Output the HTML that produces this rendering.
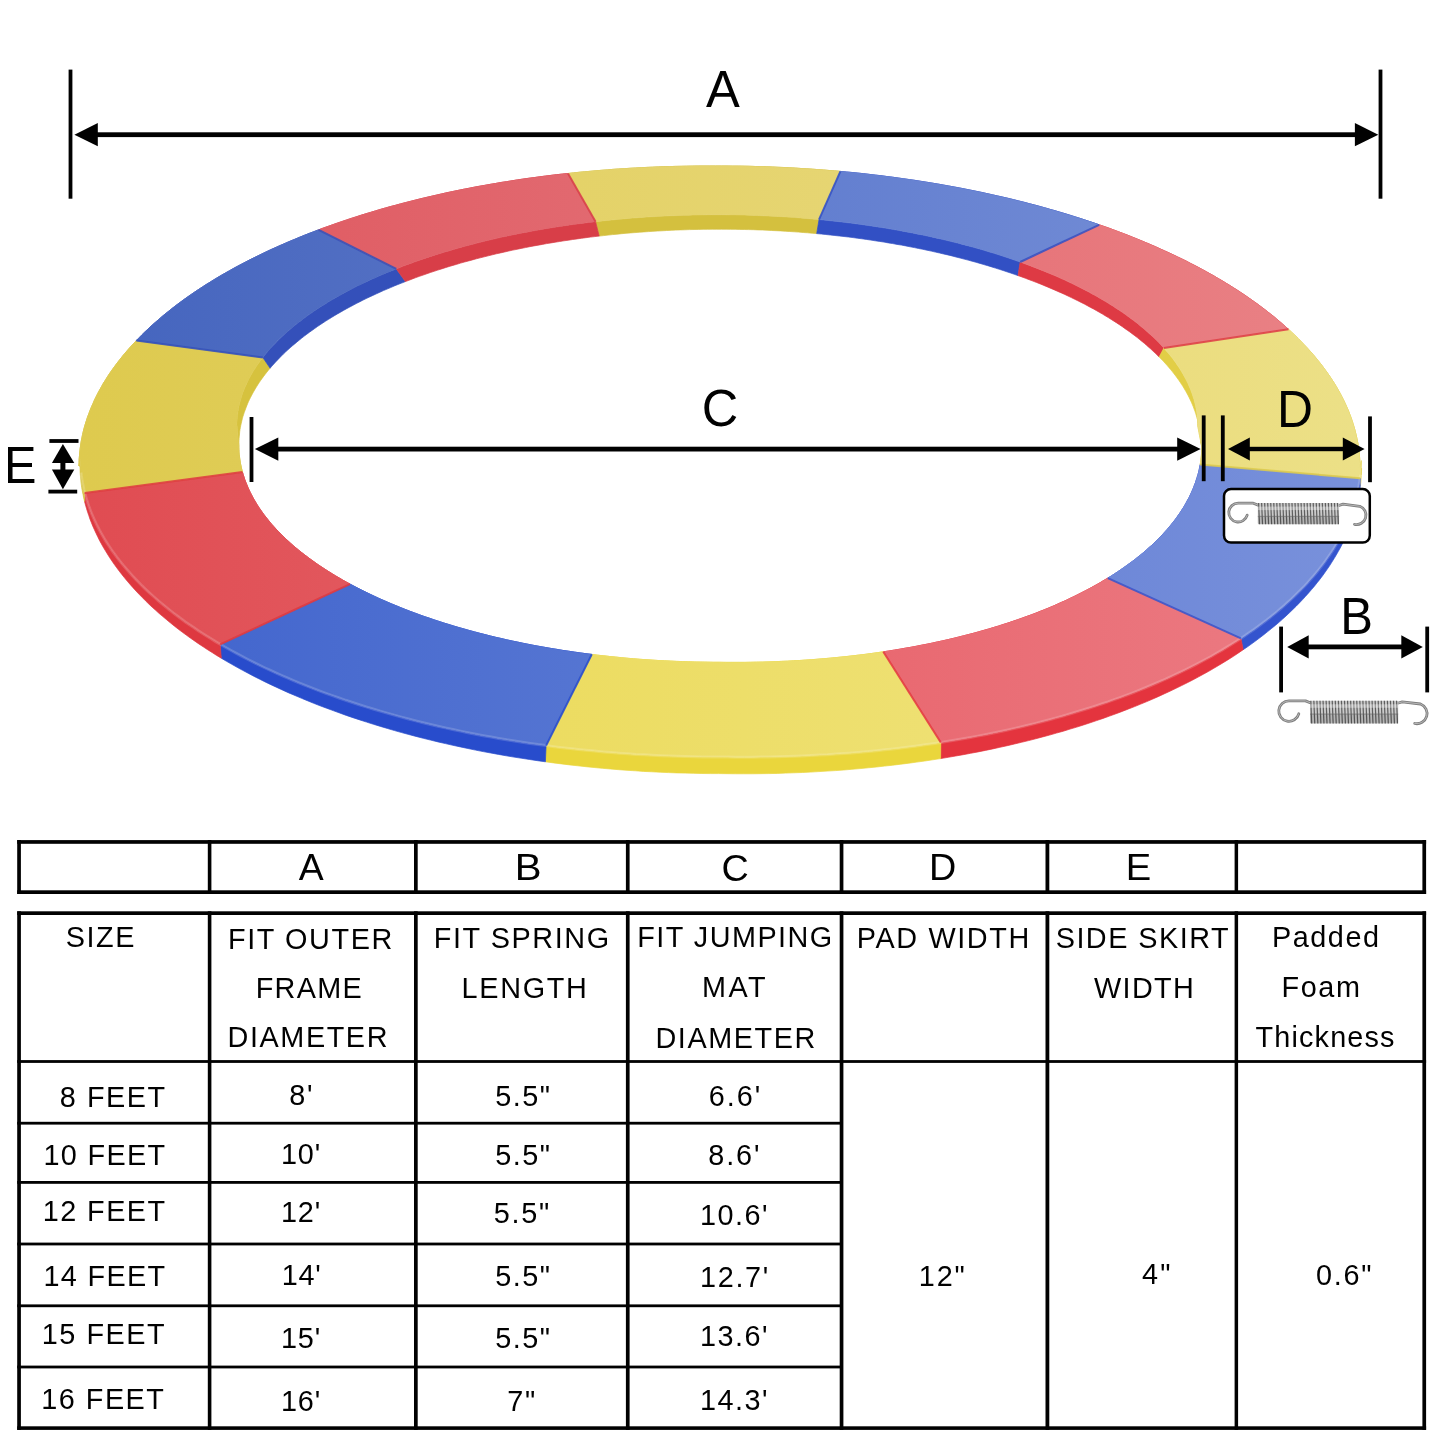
<!DOCTYPE html>
<html><head><meta charset="utf-8"><title>Trampoline pad size chart</title>
<style>html,body{margin:0;padding:0;background:#fff}svg{display:block}text{font-family:"Liberation Sans",sans-serif;white-space:pre}</style>
</head><body>
<svg width="1445" height="1445" viewBox="0 0 1445 1445">
<rect width="1445" height="1445" fill="#fff"/>
<g opacity="0.999">
<defs><linearGradient id="g0" gradientUnits="userSpaceOnUse" x1="568" y1="0" x2="840" y2="0"><stop offset="0" stop-color="#E4D268"/><stop offset="1" stop-color="#E6D572"/></linearGradient><linearGradient id="g1" gradientUnits="userSpaceOnUse" x1="819" y1="0" x2="1099" y2="0"><stop offset="0" stop-color="#637FD0"/><stop offset="1" stop-color="#6F89D4"/></linearGradient><linearGradient id="g2" gradientUnits="userSpaceOnUse" x1="1020" y1="0" x2="1288" y2="0"><stop offset="0" stop-color="#E7757A"/><stop offset="1" stop-color="#E98084"/></linearGradient><linearGradient id="g3" gradientUnits="userSpaceOnUse" x1="1164" y1="0" x2="1361" y2="0"><stop offset="0" stop-color="#EBDD7F"/><stop offset="1" stop-color="#ECE087"/></linearGradient><linearGradient id="g4" gradientUnits="userSpaceOnUse" x1="1108" y1="0" x2="1360" y2="0"><stop offset="0" stop-color="#6E88D8"/><stop offset="1" stop-color="#7991DB"/></linearGradient><linearGradient id="g5" gradientUnits="userSpaceOnUse" x1="883" y1="0" x2="1241" y2="0"><stop offset="0" stop-color="#E96971"/><stop offset="1" stop-color="#EB7880"/></linearGradient><linearGradient id="g6" gradientUnits="userSpaceOnUse" x1="546" y1="0" x2="941" y2="0"><stop offset="0" stop-color="#ECDC61"/><stop offset="1" stop-color="#EEE072"/></linearGradient><linearGradient id="g7" gradientUnits="userSpaceOnUse" x1="220" y1="0" x2="592" y2="0"><stop offset="0" stop-color="#4467CE"/><stop offset="1" stop-color="#5575D2"/></linearGradient><linearGradient id="g8" gradientUnits="userSpaceOnUse" x1="85" y1="0" x2="350" y2="0"><stop offset="0" stop-color="#E04C52"/><stop offset="1" stop-color="#E2575D"/></linearGradient><linearGradient id="g9" gradientUnits="userSpaceOnUse" x1="79" y1="0" x2="263" y2="0"><stop offset="0" stop-color="#DECA4E"/><stop offset="1" stop-color="#DFCC56"/></linearGradient><linearGradient id="g10" gradientUnits="userSpaceOnUse" x1="136" y1="0" x2="396" y2="0"><stop offset="0" stop-color="#4666BF"/><stop offset="1" stop-color="#526FC3"/></linearGradient><linearGradient id="g11" gradientUnits="userSpaceOnUse" x1="319" y1="0" x2="596" y2="0"><stop offset="0" stop-color="#E05E65"/><stop offset="1" stop-color="#E26970"/></linearGradient></defs>
<path d="M568.0,173.5 L573.5,172.9 L579.1,172.3 L584.7,171.8 L590.3,171.3 L595.9,170.8 L601.6,170.3 L607.2,169.9 L612.8,169.4 L618.5,169.0 L624.2,168.7 L629.8,168.3 L635.5,168.0 L641.2,167.7 L646.9,167.4 L652.6,167.2 L658.3,166.9 L664.0,166.7 L669.7,166.6 L675.4,166.4 L681.1,166.3 L686.8,166.2 L692.6,166.1 L698.3,166.0 L704.0,166.0 L709.8,166.0 L715.5,166.0 L721.2,166.0 L726.9,166.0 L732.6,166.1 L738.3,166.1 L744.1,166.2 L749.8,166.3 L755.5,166.5 L761.2,166.6 L766.9,166.8 L772.6,167.0 L778.2,167.3 L783.9,167.5 L789.6,167.8 L795.3,168.1 L801.0,168.5 L806.6,168.8 L812.3,169.2 L817.9,169.6 L823.6,170.0 L829.2,170.5 L834.8,170.9 L840.4,171.4 L840.4,171.4 L834.8,170.9 L829.2,170.5 L823.6,170.0 L817.9,169.6 L812.3,169.2 L806.6,168.8 L801.0,168.5 L795.3,168.1 L789.6,167.8 L783.9,167.5 L778.2,167.3 L772.6,167.0 L766.9,166.8 L761.2,166.6 L755.5,166.5 L749.8,166.3 L744.1,166.2 L738.3,166.1 L732.6,166.1 L726.9,166.0 L721.2,166.0 L715.5,166.0 L709.8,166.0 L704.0,166.0 L698.3,166.0 L692.6,166.1 L686.8,166.2 L681.1,166.3 L675.4,166.4 L669.7,166.6 L664.0,166.7 L658.3,166.9 L652.6,167.2 L646.9,167.4 L641.2,167.7 L635.5,168.0 L629.8,168.3 L624.2,168.7 L618.5,169.0 L612.8,169.4 L607.2,169.9 L601.6,170.3 L595.9,170.8 L590.3,171.3 L584.7,171.8 L579.1,172.3 L573.5,172.9 L568.0,173.5Z" fill="#D4C03E" stroke="#D4C03E" stroke-width="0.7" stroke-linejoin="round"/>
<path d="M595.6,221.7 L600.1,221.2 L604.7,220.7 L609.3,220.2 L613.9,219.8 L618.5,219.3 L623.1,218.9 L627.7,218.5 L632.3,218.1 L636.9,217.8 L641.6,217.4 L646.2,217.1 L650.8,216.8 L655.5,216.6 L660.2,216.3 L664.8,216.1 L669.5,215.8 L674.2,215.7 L678.9,215.5 L683.5,215.3 L688.2,215.2 L692.9,215.1 L697.6,215.0 L702.3,214.9 L707.0,214.8 L711.7,214.8 L716.4,214.8 L721.1,214.8 L725.8,214.8 L730.5,214.9 L735.2,214.9 L739.9,215.0 L744.6,215.1 L749.3,215.3 L754.0,215.4 L758.6,215.6 L763.3,215.8 L768.0,216.0 L772.7,216.2 L777.3,216.5 L782.0,216.7 L786.6,217.0 L791.3,217.3 L795.9,217.6 L800.6,218.0 L805.2,218.4 L809.8,218.8 L814.4,219.2 L819.0,219.6 L816.7,233.6 L812.2,233.2 L807.7,232.8 L803.3,232.5 L798.7,232.1 L794.2,231.8 L789.7,231.5 L785.2,231.2 L780.7,230.9 L776.1,230.7 L771.6,230.5 L767.0,230.2 L762.5,230.0 L757.9,229.9 L753.4,229.7 L748.8,229.6 L744.2,229.5 L739.7,229.4 L735.1,229.3 L730.5,229.3 L726.0,229.2 L721.4,229.2 L716.8,229.2 L712.2,229.2 L707.7,229.3 L703.1,229.3 L698.5,229.4 L694.0,229.5 L689.4,229.6 L684.8,229.8 L680.3,229.9 L675.7,230.1 L671.2,230.3 L666.6,230.5 L662.1,230.8 L657.6,231.0 L653.0,231.3 L648.5,231.6 L644.0,231.9 L639.5,232.2 L635.0,232.6 L630.5,232.9 L626.0,233.3 L621.5,233.7 L617.0,234.2 L612.6,234.6 L608.1,235.1 L603.7,235.6 L599.2,236.1Z" fill="#D4C03E" stroke="#D4C03E" stroke-width="0.7" stroke-linejoin="round"/>
<path d="M840.4,171.4 L846.3,172.0 L852.1,172.5 L857.9,173.1 L863.6,173.7 L869.4,174.4 L875.2,175.1 L880.9,175.7 L886.7,176.5 L892.4,177.2 L898.1,178.0 L903.8,178.8 L909.4,179.6 L915.1,180.4 L920.7,181.3 L926.4,182.2 L932.0,183.1 L937.6,184.0 L943.1,185.0 L948.7,186.0 L954.2,187.0 L959.7,188.0 L965.2,189.1 L970.7,190.2 L976.1,191.3 L981.5,192.4 L986.9,193.6 L992.3,194.8 L997.7,196.0 L1003.0,197.2 L1008.3,198.4 L1013.6,199.7 L1018.8,201.0 L1024.1,202.3 L1029.3,203.7 L1034.5,205.0 L1039.6,206.4 L1044.7,207.8 L1049.8,209.3 L1054.9,210.7 L1059.9,212.2 L1065.0,213.7 L1069.9,215.2 L1074.9,216.8 L1079.8,218.3 L1084.7,219.9 L1089.5,221.5 L1094.4,223.1 L1099.2,224.8 L1099.2,224.8 L1094.4,223.1 L1089.5,221.5 L1084.7,219.9 L1079.8,218.3 L1074.9,216.8 L1069.9,215.2 L1065.0,213.7 L1059.9,212.2 L1054.9,210.7 L1049.8,209.3 L1044.7,207.8 L1039.6,206.4 L1034.5,205.0 L1029.3,203.7 L1024.1,202.3 L1018.8,201.0 L1013.6,199.7 L1008.3,198.4 L1003.0,197.2 L997.7,196.0 L992.3,194.8 L986.9,193.6 L981.5,192.4 L976.1,191.3 L970.7,190.2 L965.2,189.1 L959.7,188.0 L954.2,187.0 L948.7,186.0 L943.1,185.0 L937.6,184.0 L932.0,183.1 L926.4,182.2 L920.7,181.3 L915.1,180.4 L909.4,179.6 L903.8,178.8 L898.1,178.0 L892.4,177.2 L886.7,176.5 L880.9,175.7 L875.2,175.1 L869.4,174.4 L863.6,173.7 L857.9,173.1 L852.1,172.5 L846.3,172.0 L840.4,171.4Z" fill="#3250C4" stroke="#3250C4" stroke-width="0.7" stroke-linejoin="round"/>
<path d="M819.0,219.6 L823.6,220.0 L828.2,220.5 L832.7,221.0 L837.3,221.5 L841.8,222.0 L846.3,222.6 L850.8,223.1 L855.3,223.7 L859.8,224.3 L864.3,224.9 L868.8,225.6 L873.2,226.2 L877.6,226.9 L882.1,227.6 L886.5,228.3 L890.8,229.1 L895.2,229.8 L899.6,230.6 L903.9,231.4 L908.2,232.2 L912.5,233.0 L916.8,233.9 L921.0,234.7 L925.3,235.6 L929.5,236.5 L933.7,237.4 L937.9,238.4 L942.0,239.3 L946.2,240.3 L950.3,241.3 L954.4,242.3 L958.5,243.3 L962.5,244.4 L966.5,245.4 L970.5,246.5 L974.5,247.6 L978.5,248.7 L982.4,249.8 L986.3,251.0 L990.2,252.2 L994.0,253.3 L997.8,254.5 L1001.6,255.7 L1005.4,257.0 L1009.1,258.2 L1012.8,259.5 L1016.5,260.8 L1020.2,262.0 L1018.0,275.6 L1014.3,274.3 L1010.6,273.0 L1006.9,271.8 L1003.1,270.5 L999.3,269.3 L995.5,268.1 L991.7,266.9 L987.8,265.7 L983.9,264.6 L980.0,263.4 L976.1,262.3 L972.1,261.2 L968.1,260.1 L964.1,259.1 L960.1,258.0 L956.0,257.0 L952.0,255.9 L947.9,254.9 L943.7,254.0 L939.6,253.0 L935.4,252.1 L931.2,251.1 L927.0,250.2 L922.8,249.3 L918.6,248.5 L914.3,247.6 L910.1,246.8 L905.8,245.9 L901.4,245.1 L897.1,244.4 L892.8,243.6 L888.4,242.9 L884.0,242.1 L879.6,241.4 L875.2,240.8 L870.8,240.1 L866.4,239.4 L861.9,238.8 L857.4,238.2 L853.0,237.6 L848.5,237.0 L844.0,236.5 L839.5,236.0 L834.9,235.5 L830.4,235.0 L825.8,234.5 L821.3,234.0 L816.7,233.6Z" fill="#3250C4" stroke="#3250C4" stroke-width="0.7" stroke-linejoin="round"/>
<path d="M1099.2,224.8 L1104.1,226.5 L1109.0,228.2 L1113.8,230.0 L1118.6,231.8 L1123.4,233.6 L1128.1,235.4 L1132.8,237.3 L1137.5,239.2 L1142.1,241.1 L1146.7,243.0 L1151.2,244.9 L1155.8,246.9 L1160.2,248.9 L1164.6,250.9 L1169.0,252.9 L1173.4,254.9 L1177.7,257.0 L1181.9,259.0 L1186.2,261.1 L1190.3,263.3 L1194.5,265.4 L1198.6,267.5 L1202.6,269.7 L1206.6,271.9 L1210.6,274.1 L1214.5,276.3 L1218.3,278.6 L1222.2,280.8 L1225.9,283.1 L1229.7,285.4 L1233.3,287.7 L1237.0,290.0 L1240.6,292.4 L1244.1,294.7 L1247.6,297.1 L1251.0,299.5 L1254.4,301.9 L1257.8,304.3 L1261.1,306.8 L1264.3,309.2 L1267.5,311.7 L1270.7,314.2 L1273.8,316.6 L1276.8,319.2 L1279.8,321.7 L1282.7,324.2 L1285.6,326.8 L1288.5,329.3 L1288.5,329.3 L1285.6,326.8 L1282.7,324.2 L1279.8,321.7 L1276.8,319.2 L1273.8,316.6 L1270.7,314.2 L1267.5,311.7 L1264.3,309.2 L1261.1,306.8 L1257.8,304.3 L1254.4,301.9 L1251.0,299.5 L1247.6,297.1 L1244.1,294.7 L1240.6,292.4 L1237.0,290.0 L1233.3,287.7 L1229.7,285.4 L1225.9,283.1 L1222.2,280.8 L1218.3,278.6 L1214.5,276.3 L1210.6,274.1 L1206.6,271.9 L1202.6,269.7 L1198.6,267.5 L1194.5,265.4 L1190.3,263.3 L1186.2,261.1 L1181.9,259.0 L1177.7,257.0 L1173.4,254.9 L1169.0,252.9 L1164.6,250.9 L1160.2,248.9 L1155.8,246.9 L1151.2,244.9 L1146.7,243.0 L1142.1,241.1 L1137.5,239.2 L1132.8,237.3 L1128.1,235.4 L1123.4,233.6 L1118.6,231.8 L1113.8,230.0 L1109.0,228.2 L1104.1,226.5 L1099.2,224.8Z" fill="#DE3A44" stroke="#DE3A44" stroke-width="0.7" stroke-linejoin="round"/>
<path d="M1020.2,262.0 L1024.1,263.5 L1028.1,264.9 L1031.9,266.4 L1035.8,267.9 L1039.6,269.4 L1043.4,270.9 L1047.1,272.4 L1050.8,274.0 L1054.5,275.5 L1058.1,277.1 L1061.7,278.7 L1065.2,280.3 L1068.7,282.0 L1072.2,283.6 L1075.6,285.3 L1079.0,287.0 L1082.4,288.7 L1085.7,290.4 L1088.9,292.1 L1092.1,293.9 L1095.3,295.6 L1098.5,297.4 L1101.5,299.2 L1104.6,301.0 L1107.6,302.8 L1110.6,304.7 L1113.5,306.5 L1116.3,308.4 L1119.2,310.2 L1121.9,312.1 L1124.7,314.0 L1127.4,315.9 L1130.0,317.9 L1132.6,319.8 L1135.2,321.7 L1137.7,323.7 L1140.1,325.7 L1142.5,327.7 L1144.9,329.7 L1147.2,331.7 L1149.4,333.7 L1151.6,335.7 L1153.8,337.7 L1155.9,339.8 L1158.0,341.8 L1160.0,343.9 L1161.9,346.0 L1163.9,348.1 L1159.1,357.0 L1157.2,355.0 L1155.1,353.0 L1153.0,351.1 L1150.9,349.1 L1148.7,347.2 L1146.5,345.2 L1144.3,343.3 L1142.0,341.4 L1139.6,339.5 L1137.3,337.6 L1134.8,335.7 L1132.4,333.9 L1129.9,332.0 L1127.3,330.2 L1124.7,328.4 L1122.1,326.5 L1119.4,324.7 L1116.7,322.9 L1114.0,321.2 L1111.2,319.4 L1108.3,317.6 L1105.5,315.9 L1102.5,314.1 L1099.6,312.4 L1096.6,310.7 L1093.6,309.0 L1090.5,307.4 L1087.4,305.7 L1084.3,304.0 L1081.1,302.4 L1077.9,300.8 L1074.6,299.2 L1071.3,297.6 L1068.0,296.0 L1064.7,294.4 L1061.3,292.9 L1057.8,291.4 L1054.4,289.9 L1050.9,288.4 L1047.4,286.9 L1043.8,285.4 L1040.2,283.9 L1036.6,282.5 L1032.9,281.1 L1029.2,279.7 L1025.5,278.3 L1021.8,276.9 L1018.0,275.6Z" fill="#DE3A44" stroke="#DE3A44" stroke-width="0.7" stroke-linejoin="round"/>
<path d="M1288.5,329.3 L1291.8,332.4 L1295.0,335.4 L1298.2,338.5 L1301.2,341.6 L1304.2,344.8 L1307.2,347.9 L1310.0,351.0 L1312.8,354.2 L1315.5,357.4 L1318.1,360.6 L1320.7,363.8 L1323.1,367.0 L1325.5,370.3 L1327.8,373.5 L1330.1,376.8 L1332.2,380.0 L1334.3,383.3 L1336.3,386.6 L1338.2,389.9 L1340.1,393.3 L1341.8,396.6 L1343.5,399.9 L1345.1,403.3 L1346.6,406.6 L1348.1,410.0 L1349.4,413.3 L1350.7,416.7 L1351.9,420.1 L1353.0,423.5 L1354.0,426.9 L1355.0,430.3 L1355.8,433.7 L1356.6,437.1 L1357.3,440.5 L1358.0,443.9 L1358.5,447.3 L1359.0,450.7 L1359.3,454.2 L1359.6,457.6 L1359.8,461.0 L1360.0,464.5 L1360.0,467.9 L1361.4,460.7 L1361.3,464.2 L1361.1,467.8 L1360.9,471.3 L1360.6,474.8 L1360.1,478.3 L1360.3,486.3 L1360.8,482.7 L1361.1,479.1 L1361.3,475.5 L1361.5,471.8 L1361.6,468.2 L1360.0,467.9 L1360.0,464.5 L1359.8,461.0 L1359.6,457.6 L1359.3,454.2 L1359.0,450.7 L1358.5,447.3 L1358.0,443.9 L1357.3,440.5 L1356.6,437.1 L1355.8,433.7 L1355.0,430.3 L1354.0,426.9 L1353.0,423.5 L1351.9,420.1 L1350.7,416.7 L1349.4,413.3 L1348.1,410.0 L1346.6,406.6 L1345.1,403.3 L1343.5,399.9 L1341.8,396.6 L1340.1,393.3 L1338.2,389.9 L1336.3,386.6 L1334.3,383.3 L1332.2,380.0 L1330.1,376.8 L1327.8,373.5 L1325.5,370.3 L1323.1,367.0 L1320.7,363.8 L1318.1,360.6 L1315.5,357.4 L1312.8,354.2 L1310.0,351.0 L1307.2,347.9 L1304.2,344.8 L1301.2,341.6 L1298.2,338.5 L1295.0,335.4 L1291.8,332.4 L1288.5,329.3Z" fill="#E2CE46" stroke="#E2CE46" stroke-width="0.7" stroke-linejoin="round"/>
<path d="M1163.9,348.1 L1165.5,350.0 L1167.2,351.9 L1168.8,353.8 L1170.4,355.7 L1171.9,357.6 L1173.4,359.6 L1174.8,361.5 L1176.2,363.4 L1177.5,365.4 L1178.8,367.3 L1180.1,369.3 L1181.3,371.3 L1182.5,373.2 L1183.6,375.2 L1184.7,377.2 L1185.8,379.2 L1186.8,381.2 L1187.8,383.2 L1188.7,385.2 L1189.5,387.2 L1190.4,389.2 L1191.2,391.2 L1191.9,393.2 L1192.6,395.2 L1193.2,397.2 L1193.9,399.2 L1194.4,401.3 L1194.9,403.3 L1195.4,405.3 L1195.8,407.3 L1196.2,409.4 L1196.6,411.4 L1196.9,413.4 L1197.1,415.5 L1197.3,417.5 L1197.5,419.6 L1197.6,421.6 L1197.7,423.6 L1197.7,425.7 L1201.8,447.3 L1201.8,449.5 L1201.7,451.6 L1201.5,453.8 L1201.4,456.0 L1201.1,458.1 L1200.9,460.3 L1200.6,462.4 L1200.2,464.6 L1200.2,464.6 L1200.6,462.2 L1200.9,459.9 L1201.2,457.5 L1201.4,455.2 L1201.6,452.8 L1201.7,450.5 L1201.8,448.1 L1201.8,445.8 L1200.7,442.6 L1200.6,440.3 L1200.5,438.1 L1200.3,435.8 L1200.1,433.6 L1199.8,431.3 L1199.5,429.0 L1199.1,426.8 L1198.6,424.5 L1198.1,422.3 L1197.6,420.0 L1197.0,417.8 L1196.3,415.5 L1195.6,413.3 L1194.9,411.1 L1194.0,408.8 L1193.2,406.6 L1192.3,404.4 L1191.3,402.1 L1190.3,399.9 L1189.2,397.7 L1188.1,395.5 L1186.9,393.3 L1185.7,391.1 L1184.4,388.9 L1183.1,386.7 L1181.7,384.6 L1180.3,382.4 L1178.8,380.2 L1177.2,378.1 L1175.7,375.9 L1174.0,373.8 L1172.3,371.6 L1170.6,369.5 L1168.8,367.4 L1167.0,365.3 L1165.1,363.2 L1163.2,361.1 L1161.2,359.0 L1159.1,357.0Z" fill="#E2CE46" stroke="#E2CE46" stroke-width="0.7" stroke-linejoin="round"/>
<path d="M1360.1,478.3 L1359.6,481.9 L1359.0,485.5 L1358.3,489.1 L1357.6,492.7 L1356.7,496.3 L1355.7,499.9 L1354.7,503.5 L1353.6,507.1 L1352.4,510.6 L1351.1,514.2 L1349.7,517.7 L1348.3,521.3 L1346.7,524.8 L1345.1,528.3 L1343.3,531.9 L1341.5,535.4 L1339.7,538.8 L1337.7,542.3 L1335.6,545.8 L1333.5,549.2 L1331.2,552.7 L1328.9,556.1 L1326.5,559.5 L1324.1,562.9 L1321.5,566.3 L1318.9,569.6 L1316.2,573.0 L1313.4,576.3 L1310.5,579.6 L1307.5,582.9 L1304.5,586.2 L1301.3,589.4 L1298.1,592.6 L1294.8,595.8 L1291.5,599.0 L1288.0,602.2 L1284.5,605.4 L1280.9,608.5 L1277.3,611.6 L1273.5,614.7 L1269.7,617.7 L1265.8,620.8 L1261.8,623.8 L1257.8,626.8 L1253.7,629.7 L1249.5,632.6 L1245.2,635.6 L1240.9,638.4 L1243.2,649.7 L1247.5,646.8 L1251.7,643.8 L1255.8,640.8 L1259.8,637.8 L1263.8,634.7 L1267.7,631.6 L1271.5,628.5 L1275.3,625.4 L1279.0,622.3 L1282.6,619.1 L1286.1,615.9 L1289.5,612.7 L1292.9,609.4 L1296.2,606.2 L1299.4,602.9 L1302.6,599.6 L1305.6,596.3 L1308.6,592.9 L1311.5,589.6 L1314.4,586.2 L1317.1,582.8 L1319.8,579.4 L1322.4,576.0 L1324.9,572.5 L1327.3,569.1 L1329.7,565.6 L1331.9,562.1 L1334.1,558.6 L1336.2,555.1 L1338.2,551.6 L1340.2,548.0 L1342.0,544.5 L1343.8,540.9 L1345.5,537.3 L1347.1,533.7 L1348.6,530.1 L1350.1,526.5 L1351.4,522.9 L1352.7,519.3 L1353.9,515.6 L1355.0,512.0 L1356.0,508.3 L1356.9,504.7 L1357.8,501.0 L1358.6,497.4 L1359.2,493.7 L1359.8,490.0 L1360.3,486.3Z" fill="#3454CE" stroke="#3454CE" stroke-width="0.7" stroke-linejoin="round"/>
<path d="M1200.2,464.6 L1199.7,467.1 L1199.2,469.7 L1198.6,472.3 L1197.9,474.8 L1197.1,477.4 L1196.3,479.9 L1195.5,482.5 L1194.5,485.0 L1193.6,487.5 L1192.5,490.1 L1191.4,492.6 L1190.2,495.1 L1189.0,497.6 L1187.6,500.1 L1186.3,502.6 L1184.9,505.1 L1183.4,507.6 L1181.8,510.0 L1180.2,512.5 L1178.5,514.9 L1176.8,517.4 L1175.0,519.8 L1173.1,522.2 L1171.2,524.6 L1169.2,527.0 L1167.2,529.4 L1165.1,531.7 L1162.9,534.1 L1160.7,536.4 L1158.4,538.8 L1156.1,541.1 L1153.7,543.4 L1151.3,545.7 L1148.7,547.9 L1146.2,550.2 L1143.6,552.5 L1140.9,554.7 L1138.1,556.9 L1135.4,559.1 L1132.5,561.3 L1129.6,563.4 L1126.6,565.6 L1123.6,567.7 L1120.6,569.8 L1117.5,571.9 L1114.3,574.0 L1111.1,576.1 L1107.8,578.1 L1107.8,578.1 L1111.1,576.1 L1114.3,574.0 L1117.5,571.9 L1120.6,569.8 L1123.6,567.7 L1126.6,565.6 L1129.6,563.4 L1132.5,561.3 L1135.4,559.1 L1138.1,556.9 L1140.9,554.7 L1143.6,552.5 L1146.2,550.2 L1148.7,547.9 L1151.3,545.7 L1153.7,543.4 L1156.1,541.1 L1158.4,538.8 L1160.7,536.4 L1162.9,534.1 L1165.1,531.7 L1167.2,529.4 L1169.2,527.0 L1171.2,524.6 L1173.1,522.2 L1175.0,519.8 L1176.8,517.4 L1178.5,514.9 L1180.2,512.5 L1181.8,510.0 L1183.4,507.6 L1184.9,505.1 L1186.3,502.6 L1187.6,500.1 L1189.0,497.6 L1190.2,495.1 L1191.4,492.6 L1192.5,490.1 L1193.6,487.5 L1194.5,485.0 L1195.5,482.5 L1196.3,479.9 L1197.1,477.4 L1197.9,474.8 L1198.6,472.3 L1199.2,469.7 L1199.7,467.1 L1200.2,464.6Z" fill="#3454CE" stroke="#3454CE" stroke-width="0.7" stroke-linejoin="round"/>
<path d="M1240.9,638.4 L1236.2,641.5 L1231.4,644.5 L1226.6,647.4 L1221.7,650.4 L1216.6,653.3 L1211.6,656.2 L1206.4,659.0 L1201.2,661.8 L1195.9,664.6 L1190.5,667.3 L1185.1,670.0 L1179.5,672.7 L1173.9,675.3 L1168.3,677.9 L1162.6,680.5 L1156.7,683.0 L1150.9,685.5 L1144.9,688.0 L1138.9,690.4 L1132.9,692.8 L1126.8,695.1 L1120.6,697.4 L1114.3,699.6 L1108.0,701.9 L1101.6,704.0 L1095.2,706.2 L1088.7,708.3 L1082.1,710.3 L1075.5,712.3 L1068.9,714.3 L1062.2,716.3 L1055.4,718.1 L1048.6,720.0 L1041.7,721.8 L1034.8,723.6 L1027.8,725.3 L1020.8,727.0 L1013.7,728.6 L1006.6,730.2 L999.5,731.7 L992.3,733.2 L985.0,734.7 L977.7,736.1 L970.4,737.5 L963.1,738.8 L955.7,740.1 L948.2,741.3 L940.8,742.5 L940.6,758.6 L948.2,757.3 L955.7,756.0 L963.2,754.7 L970.6,753.3 L978.0,751.9 L985.4,750.4 L992.7,748.9 L999.9,747.3 L1007.2,745.7 L1014.4,744.0 L1021.5,742.3 L1028.6,740.6 L1035.6,738.8 L1042.6,736.9 L1049.5,735.1 L1056.4,733.1 L1063.3,731.2 L1070.0,729.1 L1076.8,727.1 L1083.4,725.0 L1090.1,722.8 L1096.6,720.6 L1103.1,718.4 L1109.5,716.1 L1115.9,713.8 L1122.2,711.4 L1128.4,709.0 L1134.6,706.6 L1140.7,704.1 L1146.8,701.6 L1152.8,699.0 L1158.7,696.4 L1164.5,693.7 L1170.3,691.1 L1176.0,688.3 L1181.6,685.6 L1187.2,682.8 L1192.7,680.0 L1198.1,677.1 L1203.4,674.2 L1208.7,671.3 L1213.8,668.3 L1218.9,665.3 L1224.0,662.2 L1228.9,659.2 L1233.8,656.1 L1238.5,652.9 L1243.2,649.7Z" fill="#E4343E" stroke="#E4343E" stroke-width="0.7" stroke-linejoin="round"/>
<path d="M1107.8,578.1 L1104.2,580.2 L1100.6,582.4 L1097.0,584.5 L1093.3,586.5 L1089.5,588.6 L1085.7,590.6 L1081.8,592.6 L1077.9,594.6 L1073.9,596.6 L1069.8,598.5 L1065.8,600.5 L1061.6,602.3 L1057.4,604.2 L1053.2,606.1 L1048.9,607.9 L1044.5,609.7 L1040.1,611.4 L1035.7,613.2 L1031.2,614.9 L1026.6,616.5 L1022.0,618.2 L1017.4,619.8 L1012.7,621.4 L1008.0,623.0 L1003.2,624.5 L998.4,626.1 L993.6,627.5 L988.7,629.0 L983.7,630.4 L978.8,631.8 L973.8,633.2 L968.7,634.5 L963.6,635.8 L958.5,637.1 L953.3,638.4 L948.1,639.6 L942.9,640.8 L937.6,641.9 L932.3,643.1 L927.0,644.2 L921.6,645.2 L916.2,646.3 L910.8,647.3 L905.4,648.2 L899.9,649.2 L894.4,650.1 L888.8,651.0 L883.3,651.8 L883.3,651.8 L888.8,651.0 L894.4,650.1 L899.9,649.2 L905.4,648.2 L910.8,647.3 L916.2,646.3 L921.6,645.2 L927.0,644.2 L932.3,643.1 L937.6,641.9 L942.9,640.8 L948.1,639.6 L953.3,638.4 L958.5,637.1 L963.6,635.8 L968.7,634.5 L973.8,633.2 L978.8,631.8 L983.7,630.4 L988.7,629.0 L993.6,627.5 L998.4,626.1 L1003.2,624.5 L1008.0,623.0 L1012.7,621.4 L1017.4,619.8 L1022.0,618.2 L1026.6,616.5 L1031.2,614.9 L1035.7,613.2 L1040.1,611.4 L1044.5,609.7 L1048.9,607.9 L1053.2,606.1 L1057.4,604.2 L1061.6,602.3 L1065.8,600.5 L1069.8,598.5 L1073.9,596.6 L1077.9,594.6 L1081.8,592.6 L1085.7,590.6 L1089.5,588.6 L1093.3,586.5 L1097.0,584.5 L1100.6,582.4 L1104.2,580.2 L1107.8,578.1Z" fill="#E4343E" stroke="#E4343E" stroke-width="0.7" stroke-linejoin="round"/>
<path d="M940.8,742.5 L932.9,743.7 L924.9,744.8 L917.0,745.9 L909.0,747.0 L901.0,748.0 L892.9,748.9 L884.8,749.8 L876.7,750.7 L868.6,751.5 L860.4,752.2 L852.2,752.9 L844.0,753.5 L835.8,754.1 L827.5,754.7 L819.2,755.1 L810.9,755.6 L802.6,756.0 L794.3,756.3 L786.0,756.6 L777.6,756.8 L769.3,757.0 L760.9,757.1 L752.5,757.2 L744.2,757.2 L735.8,757.2 L727.4,757.1 L719.0,757.0 L710.7,757.0 L702.4,756.9 L694.0,756.7 L685.7,756.5 L677.4,756.3 L669.0,756.0 L660.7,755.7 L652.4,755.3 L644.1,754.8 L635.9,754.4 L627.6,753.8 L619.3,753.2 L611.1,752.6 L602.9,751.9 L594.7,751.1 L586.5,750.3 L578.4,749.5 L570.3,748.6 L562.2,747.7 L554.1,746.7 L546.1,745.6 L545.4,761.8 L553.5,762.9 L561.6,763.9 L569.7,764.9 L577.8,765.8 L586.0,766.7 L594.1,767.5 L602.3,768.3 L610.6,769.0 L618.8,769.7 L627.0,770.3 L635.3,770.8 L643.6,771.4 L651.9,771.8 L660.2,772.2 L668.5,772.6 L676.9,772.9 L685.2,773.1 L693.5,773.3 L701.9,773.5 L710.2,773.6 L718.6,773.6 L727.0,773.7 L735.4,773.8 L743.8,773.8 L752.1,773.8 L760.5,773.7 L768.9,773.6 L777.3,773.4 L785.6,773.1 L794.0,772.8 L802.3,772.5 L810.6,772.1 L818.9,771.6 L827.2,771.1 L835.5,770.6 L843.7,770.0 L851.9,769.3 L860.1,768.6 L868.3,767.8 L876.5,767.0 L884.6,766.1 L892.7,765.2 L900.8,764.2 L908.8,763.2 L916.8,762.1 L924.8,761.0 L932.7,759.8 L940.6,758.6Z" fill="#EAD63C" stroke="#EAD63C" stroke-width="0.7" stroke-linejoin="round"/>
<path d="M883.3,651.8 L877.5,652.7 L871.6,653.5 L865.7,654.3 L859.8,655.0 L853.9,655.7 L847.9,656.4 L841.9,657.0 L836.0,657.6 L829.9,658.2 L823.9,658.7 L817.9,659.2 L811.8,659.7 L805.7,660.1 L799.6,660.5 L793.5,660.8 L787.4,661.2 L781.3,661.4 L775.1,661.7 L769.0,661.9 L762.8,662.1 L756.6,662.2 L750.5,662.3 L744.3,662.4 L738.1,662.4 L731.9,662.4 L725.8,662.4 L719.6,662.3 L713.4,662.3 L707.3,662.2 L701.1,662.1 L694.9,662.0 L688.8,661.8 L682.7,661.6 L676.5,661.4 L670.4,661.1 L664.3,660.8 L658.1,660.5 L652.0,660.1 L646.0,659.7 L639.9,659.3 L633.8,658.8 L627.8,658.3 L621.7,657.7 L615.7,657.1 L609.7,656.5 L603.7,655.8 L597.7,655.2 L591.8,654.4 L591.8,654.4 L597.7,655.2 L603.7,655.8 L609.7,656.5 L615.7,657.1 L621.7,657.7 L627.8,658.3 L633.8,658.8 L639.9,659.3 L646.0,659.7 L652.0,660.1 L658.1,660.5 L664.3,660.8 L670.4,661.1 L676.5,661.4 L682.7,661.6 L688.8,661.8 L694.9,662.0 L701.1,662.1 L707.3,662.2 L713.4,662.3 L719.6,662.3 L725.8,662.4 L731.9,662.4 L738.1,662.4 L744.3,662.4 L750.5,662.3 L756.6,662.2 L762.8,662.1 L769.0,661.9 L775.1,661.7 L781.3,661.4 L787.4,661.2 L793.5,660.8 L799.6,660.5 L805.7,660.1 L811.8,659.7 L817.9,659.2 L823.9,658.7 L829.9,658.2 L836.0,657.6 L841.9,657.0 L847.9,656.4 L853.9,655.7 L859.8,655.0 L865.7,654.3 L871.6,653.5 L877.5,652.7 L883.3,651.8Z" fill="#EAD63C" stroke="#EAD63C" stroke-width="0.7" stroke-linejoin="round"/>
<path d="M546.1,745.6 L538.1,744.6 L530.2,743.4 L522.3,742.2 L514.4,741.0 L506.6,739.8 L498.8,738.4 L491.1,737.1 L483.3,735.7 L475.7,734.2 L468.0,732.7 L460.4,731.1 L452.9,729.5 L445.4,727.9 L437.9,726.2 L430.5,724.5 L423.2,722.7 L415.9,720.9 L408.6,719.0 L401.4,717.1 L394.2,715.1 L387.1,713.1 L380.1,711.1 L373.1,709.0 L366.2,706.9 L359.3,704.7 L352.5,702.5 L345.7,700.3 L339.1,698.0 L332.4,695.6 L325.9,693.3 L319.4,690.9 L313.0,688.4 L306.6,685.9 L300.3,683.4 L294.1,680.8 L288.0,678.2 L281.9,675.6 L275.9,672.9 L270.0,670.2 L264.1,667.5 L258.3,664.7 L252.7,661.9 L247.0,659.0 L241.5,656.1 L236.0,653.2 L230.7,650.3 L225.4,647.3 L220.2,644.3 L221.3,658.2 L226.5,661.3 L231.8,664.3 L237.1,667.3 L242.6,670.3 L248.1,673.2 L253.7,676.2 L259.3,679.0 L265.1,681.9 L270.9,684.7 L276.8,687.4 L282.8,690.2 L288.8,692.9 L295.0,695.5 L301.1,698.1 L307.4,700.7 L313.7,703.3 L320.1,705.8 L326.6,708.2 L333.1,710.6 L339.7,713.0 L346.3,715.4 L353.0,717.7 L359.8,719.9 L366.6,722.1 L373.5,724.3 L380.5,726.4 L387.5,728.5 L394.6,730.6 L401.7,732.6 L408.8,734.5 L416.0,736.4 L423.3,738.3 L430.6,740.1 L438.0,741.9 L445.4,743.6 L452.9,745.3 L460.4,746.9 L467.9,748.5 L475.5,750.1 L483.1,751.6 L490.8,753.0 L498.5,754.4 L506.2,755.8 L514.0,757.1 L521.8,758.3 L529.7,759.5 L537.5,760.7 L545.4,761.8Z" fill="#284CCC" stroke="#284CCC" stroke-width="0.7" stroke-linejoin="round"/>
<path d="M591.8,654.4 L585.9,653.7 L580.1,652.9 L574.3,652.1 L568.5,651.2 L562.7,650.4 L557.0,649.4 L551.3,648.5 L545.6,647.5 L539.9,646.5 L534.3,645.5 L528.7,644.4 L523.1,643.3 L517.6,642.1 L512.1,641.0 L506.6,639.8 L501.2,638.5 L495.7,637.3 L490.4,636.0 L485.0,634.6 L479.8,633.3 L474.5,631.9 L469.3,630.5 L464.1,629.0 L459.0,627.6 L453.9,626.1 L448.8,624.5 L443.8,623.0 L438.9,621.4 L433.9,619.8 L429.1,618.1 L424.2,616.5 L419.5,614.8 L414.7,613.0 L410.0,611.3 L405.4,609.5 L400.8,607.7 L396.3,605.8 L391.8,604.0 L387.4,602.1 L383.0,600.2 L378.7,598.3 L374.4,596.3 L370.2,594.3 L366.1,592.3 L362.0,590.3 L357.9,588.2 L354.0,586.2 L350.0,584.1 L350.0,584.1 L354.0,586.2 L357.9,588.2 L362.0,590.3 L366.1,592.3 L370.2,594.3 L374.4,596.3 L378.7,598.3 L383.0,600.2 L387.4,602.1 L391.8,604.0 L396.3,605.8 L400.8,607.7 L405.4,609.5 L410.0,611.3 L414.7,613.0 L419.5,614.8 L424.2,616.5 L429.1,618.1 L433.9,619.8 L438.9,621.4 L443.8,623.0 L448.8,624.5 L453.9,626.1 L459.0,627.6 L464.1,629.0 L469.3,630.5 L474.5,631.9 L479.8,633.3 L485.0,634.6 L490.4,636.0 L495.7,637.3 L501.2,638.5 L506.6,639.8 L512.1,641.0 L517.6,642.1 L523.1,643.3 L528.7,644.4 L534.3,645.5 L539.9,646.5 L545.6,647.5 L551.3,648.5 L557.0,649.4 L562.7,650.4 L568.5,651.2 L574.3,652.1 L580.1,652.9 L585.9,653.7 L591.8,654.4Z" fill="#284CCC" stroke="#284CCC" stroke-width="0.7" stroke-linejoin="round"/>
<path d="M220.2,644.3 L215.6,641.6 L211.1,638.8 L206.6,636.0 L202.2,633.3 L197.9,630.4 L193.7,627.6 L189.5,624.7 L185.4,621.9 L181.4,619.0 L177.4,616.0 L173.5,613.1 L169.7,610.1 L166.0,607.1 L162.3,604.1 L158.7,601.1 L155.2,598.0 L151.8,595.0 L148.4,591.9 L145.1,588.8 L141.9,585.7 L138.8,582.5 L135.8,579.4 L132.8,576.2 L129.9,573.0 L127.1,569.8 L124.3,566.6 L121.7,563.4 L119.1,560.1 L116.6,556.9 L114.2,553.6 L111.8,550.3 L109.6,547.0 L107.4,543.7 L105.3,540.4 L103.3,537.0 L101.4,533.7 L99.5,530.3 L97.8,527.0 L96.1,523.6 L94.5,520.2 L93.0,516.8 L91.5,513.4 L90.2,510.0 L88.9,506.6 L87.8,503.2 L86.7,499.8 L85.7,496.4 L84.7,492.9 L84.5,501.4 L85.5,505.0 L86.5,508.5 L87.6,512.1 L88.8,515.6 L90.0,519.2 L91.4,522.7 L92.8,526.2 L94.4,529.7 L96.0,533.2 L97.7,536.7 L99.4,540.2 L101.3,543.7 L103.2,547.1 L105.3,550.6 L107.4,554.0 L109.6,557.5 L111.9,560.9 L114.2,564.3 L116.7,567.7 L119.2,571.1 L121.8,574.4 L124.5,577.8 L127.2,581.1 L130.1,584.4 L133.0,587.7 L136.0,591.0 L139.1,594.3 L142.3,597.5 L145.5,600.8 L148.8,604.0 L152.2,607.2 L155.7,610.3 L159.2,613.5 L162.9,616.6 L166.6,619.7 L170.3,622.8 L174.2,625.9 L178.1,629.0 L182.1,632.0 L186.2,635.0 L190.3,638.0 L194.5,640.9 L198.8,643.9 L203.2,646.8 L207.6,649.7 L212.1,652.5 L216.6,655.4 L221.3,658.2Z" fill="#DE3840" stroke="#DE3840" stroke-width="0.7" stroke-linejoin="round"/>
<path d="M350.0,584.1 L346.4,582.1 L342.8,580.1 L339.3,578.0 L335.8,576.0 L332.4,573.9 L329.0,571.8 L325.7,569.7 L322.5,567.6 L319.3,565.5 L316.1,563.3 L313.1,561.1 L310.0,558.9 L307.1,556.7 L304.2,554.5 L301.3,552.3 L298.5,550.0 L295.8,547.8 L293.1,545.5 L290.5,543.2 L288.0,540.9 L285.5,538.6 L283.0,536.2 L280.7,533.9 L278.4,531.5 L276.1,529.1 L274.0,526.8 L271.8,524.4 L269.8,522.0 L267.8,519.5 L265.9,517.1 L264.0,514.7 L262.2,512.2 L260.5,509.8 L258.8,507.3 L257.2,504.8 L255.7,502.3 L254.2,499.8 L252.8,497.3 L251.5,494.8 L250.2,492.3 L249.0,489.8 L247.9,487.3 L246.8,484.7 L245.8,482.2 L244.8,479.7 L244.0,477.1 L243.2,474.6 L242.4,472.0 L242.4,472.0 L243.2,474.6 L244.0,477.1 L244.8,479.7 L245.8,482.2 L246.8,484.7 L247.9,487.3 L249.0,489.8 L250.2,492.3 L251.5,494.8 L252.8,497.3 L254.2,499.8 L255.7,502.3 L257.2,504.8 L258.8,507.3 L260.5,509.8 L262.2,512.2 L264.0,514.7 L265.9,517.1 L267.8,519.5 L269.8,522.0 L271.8,524.4 L274.0,526.8 L276.1,529.1 L278.4,531.5 L280.7,533.9 L283.0,536.2 L285.5,538.6 L288.0,540.9 L290.5,543.2 L293.1,545.5 L295.8,547.8 L298.5,550.0 L301.3,552.3 L304.2,554.5 L307.1,556.7 L310.0,558.9 L313.1,561.1 L316.1,563.3 L319.3,565.5 L322.5,567.6 L325.7,569.7 L329.0,571.8 L332.4,573.9 L335.8,576.0 L339.3,578.0 L342.8,580.1 L346.4,582.1 L350.0,584.1Z" fill="#DE3840" stroke="#DE3840" stroke-width="0.7" stroke-linejoin="round"/>
<path d="M84.7,492.9 L83.9,489.5 L83.2,486.1 L82.5,482.7 L81.9,479.3 L81.4,475.9 L81.0,472.5 L80.7,469.0 L80.4,465.6 L80.3,462.2 L80.2,458.8 L79.0,466.0 L79.1,462.5 L79.2,459.0 L79.5,455.5 L79.8,452.0 L80.2,448.5 L80.7,445.0 L81.2,441.5 L81.9,438.0 L82.6,434.5 L83.4,431.1 L84.3,427.6 L85.3,424.1 L86.4,420.7 L87.5,417.2 L88.8,413.8 L90.1,410.3 L91.5,406.9 L93.0,403.5 L94.5,400.0 L96.2,396.6 L97.9,393.2 L99.7,389.9 L101.6,386.5 L103.5,383.1 L105.6,379.8 L107.7,376.4 L109.9,373.1 L112.2,369.8 L114.6,366.5 L117.0,363.2 L119.6,359.9 L122.2,356.6 L124.8,353.4 L127.6,350.2 L130.4,347.0 L133.4,343.8 L136.3,340.6 L136.3,340.6 L133.4,343.8 L130.4,347.0 L127.6,350.2 L124.8,353.4 L122.2,356.6 L119.6,359.9 L117.0,363.2 L114.6,366.5 L112.2,369.8 L109.9,373.1 L107.7,376.4 L105.6,379.8 L103.5,383.1 L101.6,386.5 L99.7,389.9 L97.9,393.2 L96.2,396.6 L94.5,400.0 L93.0,403.5 L91.5,406.9 L90.1,410.3 L88.8,413.8 L87.5,417.2 L86.4,420.7 L85.3,424.1 L84.3,427.6 L83.4,431.1 L82.6,434.5 L81.9,438.0 L81.2,441.5 L80.7,445.0 L80.2,448.5 L79.8,452.0 L79.5,455.5 L79.2,459.0 L79.1,462.5 L79.0,466.0 L80.0,466.2 L80.1,469.7 L80.2,473.3 L80.5,476.8 L80.8,480.3 L81.2,483.8 L81.7,487.4 L82.3,490.9 L83.0,494.4 L83.7,497.9 L84.5,501.4Z" fill="#D6C23E" stroke="#D6C23E" stroke-width="0.7" stroke-linejoin="round"/>
<path d="M242.4,472.0 L241.9,470.0 L241.4,467.9 L241.0,465.9 L240.5,463.9 L240.2,461.8 L239.9,459.8 L239.6,457.7 L239.3,455.7 L239.1,453.7 L239.0,451.6 L238.9,449.6 L238.8,447.5 L238.8,445.5 L236.9,424.0 L237.0,422.0 L237.1,420.0 L237.2,418.0 L237.4,416.0 L237.7,414.0 L237.9,412.0 L238.3,410.1 L238.6,408.1 L239.0,406.1 L239.5,404.1 L240.0,402.1 L240.5,400.1 L241.1,398.2 L241.7,396.2 L242.3,394.2 L243.0,392.3 L243.8,390.3 L244.6,388.3 L245.4,386.4 L246.3,384.4 L247.2,382.5 L248.1,380.5 L249.1,378.6 L250.2,376.6 L251.2,374.7 L252.4,372.8 L253.5,370.8 L254.7,368.9 L256.0,367.0 L257.3,365.1 L258.6,363.2 L259.9,361.3 L261.4,359.4 L262.8,357.5 L270.1,368.2 L268.4,370.2 L266.8,372.2 L265.2,374.3 L263.6,376.4 L262.1,378.4 L260.6,380.5 L259.2,382.6 L257.8,384.7 L256.5,386.8 L255.2,388.9 L254.0,391.0 L252.8,393.1 L251.7,395.2 L250.6,397.3 L249.5,399.5 L248.5,401.6 L247.6,403.7 L246.7,405.9 L245.9,408.0 L245.1,410.2 L244.3,412.3 L243.6,414.5 L242.9,416.6 L242.3,418.8 L241.8,420.9 L241.3,423.1 L240.8,425.3 L240.4,427.4 L240.0,429.6 L239.7,431.8 L239.5,434.0 L239.3,436.1 L239.1,438.3 L239.0,440.5 L238.9,442.7 L238.8,445.8 L238.8,447.9 L238.9,450.1 L239.0,452.3 L239.2,454.5 L239.5,456.7 L239.7,458.9 L240.1,461.1 L240.4,463.3 L240.9,465.5 L241.3,467.6 L241.9,469.8 L242.4,472.0Z" fill="#D6C23E" stroke="#D6C23E" stroke-width="0.7" stroke-linejoin="round"/>
<path d="M136.3,340.6 L139.0,337.9 L141.6,335.2 L144.3,332.5 L147.1,329.9 L149.9,327.2 L152.8,324.6 L155.8,322.0 L158.8,319.4 L161.8,316.8 L164.9,314.2 L168.1,311.7 L171.3,309.1 L174.5,306.6 L177.8,304.1 L181.2,301.6 L184.6,299.1 L188.0,296.7 L191.6,294.2 L195.1,291.8 L198.7,289.4 L202.4,287.0 L206.1,284.6 L209.9,282.3 L213.7,279.9 L217.5,277.6 L221.4,275.3 L225.4,273.0 L229.4,270.8 L233.4,268.5 L237.5,266.3 L241.7,264.1 L245.9,261.9 L250.1,259.7 L254.4,257.6 L258.7,255.5 L263.0,253.4 L267.4,251.3 L271.9,249.2 L276.4,247.2 L280.9,245.2 L285.5,243.2 L290.1,241.2 L294.8,239.3 L299.5,237.3 L304.2,235.4 L309.0,233.5 L313.8,231.7 L318.7,229.8 L318.7,229.8 L313.8,231.7 L309.0,233.5 L304.2,235.4 L299.5,237.3 L294.8,239.3 L290.1,241.2 L285.5,243.2 L280.9,245.2 L276.4,247.2 L271.9,249.2 L267.4,251.3 L263.0,253.4 L258.7,255.5 L254.4,257.6 L250.1,259.7 L245.9,261.9 L241.7,264.1 L237.5,266.3 L233.4,268.5 L229.4,270.8 L225.4,273.0 L221.4,275.3 L217.5,277.6 L213.7,279.9 L209.9,282.3 L206.1,284.6 L202.4,287.0 L198.7,289.4 L195.1,291.8 L191.6,294.2 L188.0,296.7 L184.6,299.1 L181.2,301.6 L177.8,304.1 L174.5,306.6 L171.3,309.1 L168.1,311.7 L164.9,314.2 L161.8,316.8 L158.8,319.4 L155.8,322.0 L152.8,324.6 L149.9,327.2 L147.1,329.9 L144.3,332.5 L141.6,335.2 L139.0,337.9 L136.3,340.6Z" fill="#3450BA" stroke="#3450BA" stroke-width="0.7" stroke-linejoin="round"/>
<path d="M262.8,357.5 L264.5,355.4 L266.2,353.3 L268.0,351.2 L269.8,349.1 L271.7,347.0 L273.6,345.0 L275.6,342.9 L277.6,340.8 L279.7,338.8 L281.8,336.8 L284.0,334.7 L286.2,332.7 L288.5,330.7 L290.8,328.7 L293.2,326.7 L295.6,324.8 L298.1,322.8 L300.6,320.9 L303.1,318.9 L305.7,317.0 L308.4,315.1 L311.1,313.2 L313.8,311.3 L316.6,309.4 L319.5,307.6 L322.3,305.7 L325.3,303.9 L328.2,302.1 L331.2,300.3 L334.3,298.5 L337.4,296.7 L340.5,294.9 L343.7,293.2 L346.9,291.5 L350.2,289.7 L353.5,288.0 L356.8,286.3 L360.2,284.7 L363.7,283.0 L367.1,281.4 L370.6,279.8 L374.2,278.2 L377.8,276.6 L381.4,275.0 L385.0,273.4 L388.7,271.9 L392.5,270.4 L396.3,268.9 L405.4,281.6 L401.6,283.1 L397.9,284.5 L394.2,286.0 L390.6,287.6 L387.0,289.1 L383.4,290.6 L379.9,292.2 L376.4,293.8 L372.9,295.4 L369.5,297.0 L366.1,298.6 L362.8,300.2 L359.5,301.9 L356.2,303.6 L353.0,305.3 L349.8,307.0 L346.6,308.7 L343.5,310.4 L340.5,312.2 L337.4,313.9 L334.4,315.7 L331.5,317.5 L328.6,319.3 L325.7,321.1 L322.9,322.9 L320.1,324.8 L317.4,326.6 L314.7,328.5 L312.0,330.4 L309.4,332.3 L306.8,334.2 L304.3,336.1 L301.8,338.0 L299.4,340.0 L297.0,341.9 L294.7,343.9 L292.4,345.8 L290.1,347.8 L287.9,349.8 L285.7,351.8 L283.6,353.8 L281.6,355.8 L279.5,357.9 L277.6,359.9 L275.6,362.0 L273.8,364.0 L271.9,366.1 L270.1,368.2Z" fill="#3450BA" stroke="#3450BA" stroke-width="0.7" stroke-linejoin="round"/>
<path d="M318.7,229.8 L323.2,228.1 L327.8,226.5 L332.5,224.8 L337.1,223.2 L341.8,221.6 L346.5,220.0 L351.3,218.4 L356.1,216.9 L360.9,215.3 L365.8,213.8 L370.6,212.4 L375.5,210.9 L380.5,209.4 L385.4,208.0 L390.4,206.6 L395.5,205.3 L400.5,203.9 L405.6,202.6 L410.7,201.3 L415.8,200.0 L421.0,198.7 L426.1,197.5 L431.3,196.3 L436.6,195.1 L441.8,193.9 L447.1,192.7 L452.4,191.6 L457.7,190.5 L463.0,189.4 L468.4,188.4 L473.8,187.3 L479.2,186.3 L484.6,185.4 L490.0,184.4 L495.5,183.5 L500.9,182.5 L506.4,181.7 L512.0,180.8 L517.5,179.9 L523.0,179.1 L528.6,178.3 L534.2,177.6 L539.8,176.8 L545.4,176.1 L551.0,175.4 L556.6,174.7 L562.3,174.1 L568.0,173.5 L568.0,173.5 L562.3,174.1 L556.6,174.7 L551.0,175.4 L545.4,176.1 L539.8,176.8 L534.2,177.6 L528.6,178.3 L523.0,179.1 L517.5,179.9 L512.0,180.8 L506.4,181.7 L500.9,182.5 L495.5,183.5 L490.0,184.4 L484.6,185.4 L479.2,186.3 L473.8,187.3 L468.4,188.4 L463.0,189.4 L457.7,190.5 L452.4,191.6 L447.1,192.7 L441.8,193.9 L436.6,195.1 L431.3,196.3 L426.1,197.5 L421.0,198.7 L415.8,200.0 L410.7,201.3 L405.6,202.6 L400.5,203.9 L395.5,205.3 L390.4,206.6 L385.4,208.0 L380.5,209.4 L375.5,210.9 L370.6,212.4 L365.8,213.8 L360.9,215.3 L356.1,216.9 L351.3,218.4 L346.5,220.0 L341.8,221.6 L337.1,223.2 L332.5,224.8 L327.8,226.5 L323.2,228.1 L318.7,229.8Z" fill="#D83E48" stroke="#D83E48" stroke-width="0.7" stroke-linejoin="round"/>
<path d="M396.3,268.9 L399.8,267.5 L403.4,266.1 L407.0,264.7 L410.7,263.4 L414.3,262.1 L418.1,260.8 L421.8,259.5 L425.6,258.2 L429.4,256.9 L433.2,255.7 L437.0,254.4 L440.9,253.2 L444.8,252.0 L448.8,250.9 L452.7,249.7 L456.7,248.6 L460.7,247.4 L464.8,246.3 L468.8,245.2 L472.9,244.2 L477.0,243.1 L481.2,242.1 L485.3,241.0 L489.5,240.0 L493.7,239.1 L497.9,238.1 L502.2,237.1 L506.4,236.2 L510.7,235.3 L515.0,234.4 L519.4,233.5 L523.7,232.7 L528.1,231.9 L532.5,231.0 L536.9,230.3 L541.3,229.5 L545.7,228.7 L550.2,228.0 L554.7,227.3 L559.2,226.6 L563.7,225.9 L568.2,225.2 L572.7,224.6 L577.3,224.0 L581.8,223.4 L586.4,222.8 L591.0,222.2 L595.6,221.7 L599.2,236.1 L594.8,236.6 L590.4,237.1 L585.9,237.7 L581.5,238.3 L577.1,238.9 L572.7,239.5 L568.4,240.2 L564.0,240.8 L559.7,241.5 L555.3,242.2 L551.0,242.9 L546.7,243.6 L542.4,244.4 L538.1,245.2 L533.9,245.9 L529.7,246.7 L525.4,247.6 L521.2,248.4 L517.1,249.3 L512.9,250.1 L508.8,251.0 L504.6,252.0 L500.5,252.9 L496.4,253.8 L492.4,254.8 L488.3,255.8 L484.3,256.8 L480.3,257.8 L476.3,258.8 L472.4,259.9 L468.4,261.0 L464.5,262.0 L460.6,263.1 L456.8,264.3 L452.9,265.4 L449.1,266.5 L445.3,267.7 L441.6,268.9 L437.8,270.1 L434.1,271.3 L430.4,272.5 L426.8,273.8 L423.1,275.1 L419.5,276.3 L415.9,277.6 L412.4,278.9 L408.9,280.3 L405.4,281.6Z" fill="#D83E48" stroke="#D83E48" stroke-width="0.7" stroke-linejoin="round"/>
<path d="M568.0,173.5 L573.5,172.9 L579.1,172.3 L584.7,171.8 L590.3,171.3 L595.9,170.8 L601.6,170.3 L607.2,169.9 L612.8,169.4 L618.5,169.0 L624.2,168.7 L629.8,168.3 L635.5,168.0 L641.2,167.7 L646.9,167.4 L652.6,167.2 L658.3,166.9 L664.0,166.7 L669.7,166.6 L675.4,166.4 L681.1,166.3 L686.8,166.2 L692.6,166.1 L698.3,166.0 L704.0,166.0 L709.8,166.0 L715.5,166.0 L721.2,166.0 L726.9,166.0 L732.6,166.1 L738.3,166.1 L744.1,166.2 L749.8,166.3 L755.5,166.5 L761.2,166.6 L766.9,166.8 L772.6,167.0 L778.2,167.3 L783.9,167.5 L789.6,167.8 L795.3,168.1 L801.0,168.5 L806.6,168.8 L812.3,169.2 L817.9,169.6 L823.6,170.0 L829.2,170.5 L834.8,170.9 L840.4,171.4 L819.0,219.6 L814.4,219.2 L809.8,218.8 L805.2,218.4 L800.6,218.0 L795.9,217.6 L791.3,217.3 L786.6,217.0 L782.0,216.7 L777.3,216.5 L772.7,216.2 L768.0,216.0 L763.3,215.8 L758.6,215.6 L754.0,215.4 L749.3,215.3 L744.6,215.1 L739.9,215.0 L735.2,214.9 L730.5,214.9 L725.8,214.8 L721.1,214.8 L716.4,214.8 L711.7,214.8 L707.0,214.8 L702.3,214.9 L697.6,215.0 L692.9,215.1 L688.2,215.2 L683.5,215.3 L678.9,215.5 L674.2,215.7 L669.5,215.8 L664.8,216.1 L660.2,216.3 L655.5,216.6 L650.8,216.8 L646.2,217.1 L641.6,217.4 L636.9,217.8 L632.3,218.1 L627.7,218.5 L623.1,218.9 L618.5,219.3 L613.9,219.8 L609.3,220.2 L604.7,220.7 L600.1,221.2 L595.6,221.7Z" fill="url(#g0)" stroke="#E5D36D" stroke-width="0.5" stroke-linejoin="round"/>
<path d="M840.4,171.4 L846.3,172.0 L852.1,172.5 L857.9,173.1 L863.6,173.7 L869.4,174.4 L875.2,175.1 L880.9,175.7 L886.7,176.5 L892.4,177.2 L898.1,178.0 L903.8,178.8 L909.4,179.6 L915.1,180.4 L920.7,181.3 L926.4,182.2 L932.0,183.1 L937.6,184.0 L943.1,185.0 L948.7,186.0 L954.2,187.0 L959.7,188.0 L965.2,189.1 L970.7,190.2 L976.1,191.3 L981.5,192.4 L986.9,193.6 L992.3,194.8 L997.7,196.0 L1003.0,197.2 L1008.3,198.4 L1013.6,199.7 L1018.8,201.0 L1024.1,202.3 L1029.3,203.7 L1034.5,205.0 L1039.6,206.4 L1044.7,207.8 L1049.8,209.3 L1054.9,210.7 L1059.9,212.2 L1065.0,213.7 L1069.9,215.2 L1074.9,216.8 L1079.8,218.3 L1084.7,219.9 L1089.5,221.5 L1094.4,223.1 L1099.2,224.8 L1020.2,262.0 L1016.5,260.8 L1012.8,259.5 L1009.1,258.2 L1005.4,257.0 L1001.6,255.7 L997.8,254.5 L994.0,253.3 L990.2,252.2 L986.3,251.0 L982.4,249.8 L978.5,248.7 L974.5,247.6 L970.5,246.5 L966.5,245.4 L962.5,244.4 L958.5,243.3 L954.4,242.3 L950.3,241.3 L946.2,240.3 L942.0,239.3 L937.9,238.4 L933.7,237.4 L929.5,236.5 L925.3,235.6 L921.0,234.7 L916.8,233.9 L912.5,233.0 L908.2,232.2 L903.9,231.4 L899.6,230.6 L895.2,229.8 L890.8,229.1 L886.5,228.3 L882.1,227.6 L877.6,226.9 L873.2,226.2 L868.8,225.6 L864.3,224.9 L859.8,224.3 L855.3,223.7 L850.8,223.1 L846.3,222.6 L841.8,222.0 L837.3,221.5 L832.7,221.0 L828.2,220.5 L823.6,220.0 L819.0,219.6Z" fill="url(#g1)" stroke="#6984D2" stroke-width="0.5" stroke-linejoin="round"/>
<path d="M1099.2,224.8 L1104.1,226.5 L1109.0,228.2 L1113.8,230.0 L1118.6,231.8 L1123.4,233.6 L1128.1,235.4 L1132.8,237.3 L1137.5,239.2 L1142.1,241.1 L1146.7,243.0 L1151.2,244.9 L1155.8,246.9 L1160.2,248.9 L1164.6,250.9 L1169.0,252.9 L1173.4,254.9 L1177.7,257.0 L1181.9,259.0 L1186.2,261.1 L1190.3,263.3 L1194.5,265.4 L1198.6,267.5 L1202.6,269.7 L1206.6,271.9 L1210.6,274.1 L1214.5,276.3 L1218.3,278.6 L1222.2,280.8 L1225.9,283.1 L1229.7,285.4 L1233.3,287.7 L1237.0,290.0 L1240.6,292.4 L1244.1,294.7 L1247.6,297.1 L1251.0,299.5 L1254.4,301.9 L1257.8,304.3 L1261.1,306.8 L1264.3,309.2 L1267.5,311.7 L1270.7,314.2 L1273.8,316.6 L1276.8,319.2 L1279.8,321.7 L1282.7,324.2 L1285.6,326.8 L1288.5,329.3 L1163.9,348.1 L1161.9,346.0 L1160.0,343.9 L1158.0,341.8 L1155.9,339.8 L1153.8,337.7 L1151.6,335.7 L1149.4,333.7 L1147.2,331.7 L1144.9,329.7 L1142.5,327.7 L1140.1,325.7 L1137.7,323.7 L1135.2,321.7 L1132.6,319.8 L1130.0,317.9 L1127.4,315.9 L1124.7,314.0 L1121.9,312.1 L1119.2,310.2 L1116.3,308.4 L1113.5,306.5 L1110.6,304.7 L1107.6,302.8 L1104.6,301.0 L1101.5,299.2 L1098.5,297.4 L1095.3,295.6 L1092.1,293.9 L1088.9,292.1 L1085.7,290.4 L1082.4,288.7 L1079.0,287.0 L1075.6,285.3 L1072.2,283.6 L1068.7,282.0 L1065.2,280.3 L1061.7,278.7 L1058.1,277.1 L1054.5,275.5 L1050.8,274.0 L1047.1,272.4 L1043.4,270.9 L1039.6,269.4 L1035.8,267.9 L1031.9,266.4 L1028.1,264.9 L1024.1,263.5 L1020.2,262.0Z" fill="url(#g2)" stroke="#E87B7F" stroke-width="0.5" stroke-linejoin="round"/>
<path d="M1288.5,329.3 L1291.8,332.4 L1295.0,335.4 L1298.2,338.5 L1301.2,341.6 L1304.2,344.8 L1307.2,347.9 L1310.0,351.0 L1312.8,354.2 L1315.5,357.4 L1318.1,360.6 L1320.7,363.8 L1323.1,367.0 L1325.5,370.3 L1327.8,373.5 L1330.1,376.8 L1332.2,380.0 L1334.3,383.3 L1336.3,386.6 L1338.2,389.9 L1340.1,393.3 L1341.8,396.6 L1343.5,399.9 L1345.1,403.3 L1346.6,406.6 L1348.1,410.0 L1349.4,413.3 L1350.7,416.7 L1351.9,420.1 L1353.0,423.5 L1354.0,426.9 L1355.0,430.3 L1355.8,433.7 L1356.6,437.1 L1357.3,440.5 L1358.0,443.9 L1358.5,447.3 L1359.0,450.7 L1359.3,454.2 L1359.6,457.6 L1359.8,461.0 L1360.0,464.5 L1360.0,467.9 L1361.4,460.7 L1361.3,464.2 L1361.1,467.8 L1360.9,471.3 L1360.6,474.8 L1360.1,478.3 L1200.2,464.6 L1200.6,462.4 L1200.9,460.3 L1201.1,458.1 L1201.4,456.0 L1201.5,453.8 L1201.7,451.6 L1201.8,449.5 L1201.8,447.3 L1197.7,425.7 L1197.7,423.6 L1197.6,421.6 L1197.5,419.6 L1197.3,417.5 L1197.1,415.5 L1196.9,413.4 L1196.6,411.4 L1196.2,409.4 L1195.8,407.3 L1195.4,405.3 L1194.9,403.3 L1194.4,401.3 L1193.9,399.2 L1193.2,397.2 L1192.6,395.2 L1191.9,393.2 L1191.2,391.2 L1190.4,389.2 L1189.5,387.2 L1188.7,385.2 L1187.8,383.2 L1186.8,381.2 L1185.8,379.2 L1184.7,377.2 L1183.6,375.2 L1182.5,373.2 L1181.3,371.3 L1180.1,369.3 L1178.8,367.3 L1177.5,365.4 L1176.2,363.4 L1174.8,361.5 L1173.4,359.6 L1171.9,357.6 L1170.4,355.7 L1168.8,353.8 L1167.2,351.9 L1165.5,350.0 L1163.9,348.1Z" fill="url(#g3)" stroke="#EBDE83" stroke-width="0.5" stroke-linejoin="round"/>
<path d="M1360.1,478.3 L1359.6,481.9 L1359.0,485.5 L1358.3,489.1 L1357.6,492.7 L1356.7,496.3 L1355.7,499.9 L1354.7,503.5 L1353.6,507.1 L1352.4,510.6 L1351.1,514.2 L1349.7,517.7 L1348.3,521.3 L1346.7,524.8 L1345.1,528.3 L1343.3,531.9 L1341.5,535.4 L1339.7,538.8 L1337.7,542.3 L1335.6,545.8 L1333.5,549.2 L1331.2,552.7 L1328.9,556.1 L1326.5,559.5 L1324.1,562.9 L1321.5,566.3 L1318.9,569.6 L1316.2,573.0 L1313.4,576.3 L1310.5,579.6 L1307.5,582.9 L1304.5,586.2 L1301.3,589.4 L1298.1,592.6 L1294.8,595.8 L1291.5,599.0 L1288.0,602.2 L1284.5,605.4 L1280.9,608.5 L1277.3,611.6 L1273.5,614.7 L1269.7,617.7 L1265.8,620.8 L1261.8,623.8 L1257.8,626.8 L1253.7,629.7 L1249.5,632.6 L1245.2,635.6 L1240.9,638.4 L1107.8,578.1 L1111.1,576.1 L1114.3,574.0 L1117.5,571.9 L1120.6,569.8 L1123.6,567.7 L1126.6,565.6 L1129.6,563.4 L1132.5,561.3 L1135.4,559.1 L1138.1,556.9 L1140.9,554.7 L1143.6,552.5 L1146.2,550.2 L1148.7,547.9 L1151.3,545.7 L1153.7,543.4 L1156.1,541.1 L1158.4,538.8 L1160.7,536.4 L1162.9,534.1 L1165.1,531.7 L1167.2,529.4 L1169.2,527.0 L1171.2,524.6 L1173.1,522.2 L1175.0,519.8 L1176.8,517.4 L1178.5,514.9 L1180.2,512.5 L1181.8,510.0 L1183.4,507.6 L1184.9,505.1 L1186.3,502.6 L1187.6,500.1 L1189.0,497.6 L1190.2,495.1 L1191.4,492.6 L1192.5,490.1 L1193.6,487.5 L1194.5,485.0 L1195.5,482.5 L1196.3,479.9 L1197.1,477.4 L1197.9,474.8 L1198.6,472.3 L1199.2,469.7 L1199.7,467.1 L1200.2,464.6Z" fill="url(#g4)" stroke="#748CDA" stroke-width="0.5" stroke-linejoin="round"/>
<path d="M1240.9,638.4 L1236.2,641.5 L1231.4,644.5 L1226.6,647.4 L1221.7,650.4 L1216.6,653.3 L1211.6,656.2 L1206.4,659.0 L1201.2,661.8 L1195.9,664.6 L1190.5,667.3 L1185.1,670.0 L1179.5,672.7 L1173.9,675.3 L1168.3,677.9 L1162.6,680.5 L1156.7,683.0 L1150.9,685.5 L1144.9,688.0 L1138.9,690.4 L1132.9,692.8 L1126.8,695.1 L1120.6,697.4 L1114.3,699.6 L1108.0,701.9 L1101.6,704.0 L1095.2,706.2 L1088.7,708.3 L1082.1,710.3 L1075.5,712.3 L1068.9,714.3 L1062.2,716.3 L1055.4,718.1 L1048.6,720.0 L1041.7,721.8 L1034.8,723.6 L1027.8,725.3 L1020.8,727.0 L1013.7,728.6 L1006.6,730.2 L999.5,731.7 L992.3,733.2 L985.0,734.7 L977.7,736.1 L970.4,737.5 L963.1,738.8 L955.7,740.1 L948.2,741.3 L940.8,742.5 L883.3,651.8 L888.8,651.0 L894.4,650.1 L899.9,649.2 L905.4,648.2 L910.8,647.3 L916.2,646.3 L921.6,645.2 L927.0,644.2 L932.3,643.1 L937.6,641.9 L942.9,640.8 L948.1,639.6 L953.3,638.4 L958.5,637.1 L963.6,635.8 L968.7,634.5 L973.8,633.2 L978.8,631.8 L983.7,630.4 L988.7,629.0 L993.6,627.5 L998.4,626.1 L1003.2,624.5 L1008.0,623.0 L1012.7,621.4 L1017.4,619.8 L1022.0,618.2 L1026.6,616.5 L1031.2,614.9 L1035.7,613.2 L1040.1,611.4 L1044.5,609.7 L1048.9,607.9 L1053.2,606.1 L1057.4,604.2 L1061.6,602.3 L1065.8,600.5 L1069.8,598.5 L1073.9,596.6 L1077.9,594.6 L1081.8,592.6 L1085.7,590.6 L1089.5,588.6 L1093.3,586.5 L1097.0,584.5 L1100.6,582.4 L1104.2,580.2 L1107.8,578.1Z" fill="url(#g5)" stroke="#EA7178" stroke-width="0.5" stroke-linejoin="round"/>
<path d="M940.8,742.5 L932.9,743.7 L924.9,744.8 L917.0,745.9 L909.0,747.0 L901.0,748.0 L892.9,748.9 L884.8,749.8 L876.7,750.7 L868.6,751.5 L860.4,752.2 L852.2,752.9 L844.0,753.5 L835.8,754.1 L827.5,754.7 L819.2,755.1 L810.9,755.6 L802.6,756.0 L794.3,756.3 L786.0,756.6 L777.6,756.8 L769.3,757.0 L760.9,757.1 L752.5,757.2 L744.2,757.2 L735.8,757.2 L727.4,757.1 L719.0,757.0 L710.7,757.0 L702.4,756.9 L694.0,756.7 L685.7,756.5 L677.4,756.3 L669.0,756.0 L660.7,755.7 L652.4,755.3 L644.1,754.8 L635.9,754.4 L627.6,753.8 L619.3,753.2 L611.1,752.6 L602.9,751.9 L594.7,751.1 L586.5,750.3 L578.4,749.5 L570.3,748.6 L562.2,747.7 L554.1,746.7 L546.1,745.6 L591.8,654.4 L597.7,655.2 L603.7,655.8 L609.7,656.5 L615.7,657.1 L621.7,657.7 L627.8,658.3 L633.8,658.8 L639.9,659.3 L646.0,659.7 L652.0,660.1 L658.1,660.5 L664.3,660.8 L670.4,661.1 L676.5,661.4 L682.7,661.6 L688.8,661.8 L694.9,662.0 L701.1,662.1 L707.3,662.2 L713.4,662.3 L719.6,662.3 L725.8,662.4 L731.9,662.4 L738.1,662.4 L744.3,662.4 L750.5,662.3 L756.6,662.2 L762.8,662.1 L769.0,661.9 L775.1,661.7 L781.3,661.4 L787.4,661.2 L793.5,660.8 L799.6,660.5 L805.7,660.1 L811.8,659.7 L817.9,659.2 L823.9,658.7 L829.9,658.2 L836.0,657.6 L841.9,657.0 L847.9,656.4 L853.9,655.7 L859.8,655.0 L865.7,654.3 L871.6,653.5 L877.5,652.7 L883.3,651.8Z" fill="url(#g6)" stroke="#EDDE6A" stroke-width="0.5" stroke-linejoin="round"/>
<path d="M546.1,745.6 L538.1,744.6 L530.2,743.4 L522.3,742.2 L514.4,741.0 L506.6,739.8 L498.8,738.4 L491.1,737.1 L483.3,735.7 L475.7,734.2 L468.0,732.7 L460.4,731.1 L452.9,729.5 L445.4,727.9 L437.9,726.2 L430.5,724.5 L423.2,722.7 L415.9,720.9 L408.6,719.0 L401.4,717.1 L394.2,715.1 L387.1,713.1 L380.1,711.1 L373.1,709.0 L366.2,706.9 L359.3,704.7 L352.5,702.5 L345.7,700.3 L339.1,698.0 L332.4,695.6 L325.9,693.3 L319.4,690.9 L313.0,688.4 L306.6,685.9 L300.3,683.4 L294.1,680.8 L288.0,678.2 L281.9,675.6 L275.9,672.9 L270.0,670.2 L264.1,667.5 L258.3,664.7 L252.7,661.9 L247.0,659.0 L241.5,656.1 L236.0,653.2 L230.7,650.3 L225.4,647.3 L220.2,644.3 L350.0,584.1 L354.0,586.2 L357.9,588.2 L362.0,590.3 L366.1,592.3 L370.2,594.3 L374.4,596.3 L378.7,598.3 L383.0,600.2 L387.4,602.1 L391.8,604.0 L396.3,605.8 L400.8,607.7 L405.4,609.5 L410.0,611.3 L414.7,613.0 L419.5,614.8 L424.2,616.5 L429.1,618.1 L433.9,619.8 L438.9,621.4 L443.8,623.0 L448.8,624.5 L453.9,626.1 L459.0,627.6 L464.1,629.0 L469.3,630.5 L474.5,631.9 L479.8,633.3 L485.0,634.6 L490.4,636.0 L495.7,637.3 L501.2,638.5 L506.6,639.8 L512.1,641.0 L517.6,642.1 L523.1,643.3 L528.7,644.4 L534.3,645.5 L539.9,646.5 L545.6,647.5 L551.3,648.5 L557.0,649.4 L562.7,650.4 L568.5,651.2 L574.3,652.1 L580.1,652.9 L585.9,653.7 L591.8,654.4Z" fill="url(#g7)" stroke="#4D6ED0" stroke-width="0.5" stroke-linejoin="round"/>
<path d="M220.2,644.3 L215.6,641.6 L211.1,638.8 L206.6,636.0 L202.2,633.3 L197.9,630.4 L193.7,627.6 L189.5,624.7 L185.4,621.9 L181.4,619.0 L177.4,616.0 L173.5,613.1 L169.7,610.1 L166.0,607.1 L162.3,604.1 L158.7,601.1 L155.2,598.0 L151.8,595.0 L148.4,591.9 L145.1,588.8 L141.9,585.7 L138.8,582.5 L135.8,579.4 L132.8,576.2 L129.9,573.0 L127.1,569.8 L124.3,566.6 L121.7,563.4 L119.1,560.1 L116.6,556.9 L114.2,553.6 L111.8,550.3 L109.6,547.0 L107.4,543.7 L105.3,540.4 L103.3,537.0 L101.4,533.7 L99.5,530.3 L97.8,527.0 L96.1,523.6 L94.5,520.2 L93.0,516.8 L91.5,513.4 L90.2,510.0 L88.9,506.6 L87.8,503.2 L86.7,499.8 L85.7,496.4 L84.7,492.9 L242.4,472.0 L243.2,474.6 L244.0,477.1 L244.8,479.7 L245.8,482.2 L246.8,484.7 L247.9,487.3 L249.0,489.8 L250.2,492.3 L251.5,494.8 L252.8,497.3 L254.2,499.8 L255.7,502.3 L257.2,504.8 L258.8,507.3 L260.5,509.8 L262.2,512.2 L264.0,514.7 L265.9,517.1 L267.8,519.5 L269.8,522.0 L271.8,524.4 L274.0,526.8 L276.1,529.1 L278.4,531.5 L280.7,533.9 L283.0,536.2 L285.5,538.6 L288.0,540.9 L290.5,543.2 L293.1,545.5 L295.8,547.8 L298.5,550.0 L301.3,552.3 L304.2,554.5 L307.1,556.7 L310.0,558.9 L313.1,561.1 L316.1,563.3 L319.3,565.5 L322.5,567.6 L325.7,569.7 L329.0,571.8 L332.4,573.9 L335.8,576.0 L339.3,578.0 L342.8,580.1 L346.4,582.1 L350.0,584.1Z" fill="url(#g8)" stroke="#E15258" stroke-width="0.5" stroke-linejoin="round"/>
<path d="M84.7,492.9 L83.9,489.5 L83.2,486.1 L82.5,482.7 L81.9,479.3 L81.4,475.9 L81.0,472.5 L80.7,469.0 L80.4,465.6 L80.3,462.2 L80.2,458.8 L79.0,466.0 L79.1,462.5 L79.2,459.0 L79.5,455.5 L79.8,452.0 L80.2,448.5 L80.7,445.0 L81.2,441.5 L81.9,438.0 L82.6,434.5 L83.4,431.1 L84.3,427.6 L85.3,424.1 L86.4,420.7 L87.5,417.2 L88.8,413.8 L90.1,410.3 L91.5,406.9 L93.0,403.5 L94.5,400.0 L96.2,396.6 L97.9,393.2 L99.7,389.9 L101.6,386.5 L103.5,383.1 L105.6,379.8 L107.7,376.4 L109.9,373.1 L112.2,369.8 L114.6,366.5 L117.0,363.2 L119.6,359.9 L122.2,356.6 L124.8,353.4 L127.6,350.2 L130.4,347.0 L133.4,343.8 L136.3,340.6 L262.8,357.5 L261.4,359.4 L259.9,361.3 L258.6,363.2 L257.3,365.1 L256.0,367.0 L254.7,368.9 L253.5,370.8 L252.4,372.8 L251.2,374.7 L250.2,376.6 L249.1,378.6 L248.1,380.5 L247.2,382.5 L246.3,384.4 L245.4,386.4 L244.6,388.3 L243.8,390.3 L243.0,392.3 L242.3,394.2 L241.7,396.2 L241.1,398.2 L240.5,400.1 L240.0,402.1 L239.5,404.1 L239.0,406.1 L238.6,408.1 L238.3,410.1 L237.9,412.0 L237.7,414.0 L237.4,416.0 L237.2,418.0 L237.1,420.0 L237.0,422.0 L236.9,424.0 L238.8,445.5 L238.8,447.5 L238.9,449.6 L239.0,451.6 L239.1,453.7 L239.3,455.7 L239.6,457.7 L239.9,459.8 L240.2,461.8 L240.5,463.9 L241.0,465.9 L241.4,467.9 L241.9,470.0 L242.4,472.0Z" fill="url(#g9)" stroke="#DFCB52" stroke-width="0.5" stroke-linejoin="round"/>
<path d="M136.3,340.6 L139.0,337.9 L141.6,335.2 L144.3,332.5 L147.1,329.9 L149.9,327.2 L152.8,324.6 L155.8,322.0 L158.8,319.4 L161.8,316.8 L164.9,314.2 L168.1,311.7 L171.3,309.1 L174.5,306.6 L177.8,304.1 L181.2,301.6 L184.6,299.1 L188.0,296.7 L191.6,294.2 L195.1,291.8 L198.7,289.4 L202.4,287.0 L206.1,284.6 L209.9,282.3 L213.7,279.9 L217.5,277.6 L221.4,275.3 L225.4,273.0 L229.4,270.8 L233.4,268.5 L237.5,266.3 L241.7,264.1 L245.9,261.9 L250.1,259.7 L254.4,257.6 L258.7,255.5 L263.0,253.4 L267.4,251.3 L271.9,249.2 L276.4,247.2 L280.9,245.2 L285.5,243.2 L290.1,241.2 L294.8,239.3 L299.5,237.3 L304.2,235.4 L309.0,233.5 L313.8,231.7 L318.7,229.8 L396.3,268.9 L392.5,270.4 L388.7,271.9 L385.0,273.4 L381.4,275.0 L377.8,276.6 L374.2,278.2 L370.6,279.8 L367.1,281.4 L363.7,283.0 L360.2,284.7 L356.8,286.3 L353.5,288.0 L350.2,289.7 L346.9,291.5 L343.7,293.2 L340.5,294.9 L337.4,296.7 L334.3,298.5 L331.2,300.3 L328.2,302.1 L325.3,303.9 L322.3,305.7 L319.5,307.6 L316.6,309.4 L313.8,311.3 L311.1,313.2 L308.4,315.1 L305.7,317.0 L303.1,318.9 L300.6,320.9 L298.1,322.8 L295.6,324.8 L293.2,326.7 L290.8,328.7 L288.5,330.7 L286.2,332.7 L284.0,334.7 L281.8,336.8 L279.7,338.8 L277.6,340.8 L275.6,342.9 L273.6,345.0 L271.7,347.0 L269.8,349.1 L268.0,351.2 L266.2,353.3 L264.5,355.4 L262.8,357.5Z" fill="url(#g10)" stroke="#4C6BC1" stroke-width="0.5" stroke-linejoin="round"/>
<path d="M318.7,229.8 L323.2,228.1 L327.8,226.5 L332.5,224.8 L337.1,223.2 L341.8,221.6 L346.5,220.0 L351.3,218.4 L356.1,216.9 L360.9,215.3 L365.8,213.8 L370.6,212.4 L375.5,210.9 L380.5,209.4 L385.4,208.0 L390.4,206.6 L395.5,205.3 L400.5,203.9 L405.6,202.6 L410.7,201.3 L415.8,200.0 L421.0,198.7 L426.1,197.5 L431.3,196.3 L436.6,195.1 L441.8,193.9 L447.1,192.7 L452.4,191.6 L457.7,190.5 L463.0,189.4 L468.4,188.4 L473.8,187.3 L479.2,186.3 L484.6,185.4 L490.0,184.4 L495.5,183.5 L500.9,182.5 L506.4,181.7 L512.0,180.8 L517.5,179.9 L523.0,179.1 L528.6,178.3 L534.2,177.6 L539.8,176.8 L545.4,176.1 L551.0,175.4 L556.6,174.7 L562.3,174.1 L568.0,173.5 L595.6,221.7 L591.0,222.2 L586.4,222.8 L581.8,223.4 L577.3,224.0 L572.7,224.6 L568.2,225.2 L563.7,225.9 L559.2,226.6 L554.7,227.3 L550.2,228.0 L545.7,228.7 L541.3,229.5 L536.9,230.3 L532.5,231.0 L528.1,231.9 L523.7,232.7 L519.4,233.5 L515.0,234.4 L510.7,235.3 L506.4,236.2 L502.2,237.1 L497.9,238.1 L493.7,239.1 L489.5,240.0 L485.3,241.0 L481.2,242.1 L477.0,243.1 L472.9,244.2 L468.8,245.2 L464.8,246.3 L460.7,247.4 L456.7,248.6 L452.7,249.7 L448.8,250.9 L444.8,252.0 L440.9,253.2 L437.0,254.4 L433.2,255.7 L429.4,256.9 L425.6,258.2 L421.8,259.5 L418.1,260.8 L414.3,262.1 L410.7,263.4 L407.0,264.7 L403.4,266.1 L399.8,267.5 L396.3,268.9Z" fill="url(#g11)" stroke="#E1636A" stroke-width="0.5" stroke-linejoin="round"/>
<path d="M568.0,173.5 L595.6,221.7" stroke="#D83E48" stroke-opacity="0.85" stroke-width="2"/>
<path d="M840.4,171.4 L819.0,219.6" stroke="#3250C4" stroke-opacity="0.85" stroke-width="2"/>
<path d="M1099.2,224.8 L1020.2,262.0" stroke="#3250C4" stroke-opacity="0.85" stroke-width="2"/>
<path d="M1360.6,474.8 L1360.1,478.3" fill="none" stroke="#fff" stroke-opacity="0.16" stroke-width="3"/>
<path d="M1288.5,329.3 L1163.9,348.1" stroke="#DE3A44" stroke-opacity="0.85" stroke-width="2"/>
<path d="M1360.1,478.3 L1359.6,481.9 L1359.0,485.5 L1358.3,489.1 L1357.6,492.7 L1356.7,496.3 L1355.7,499.9 L1354.7,503.5 L1353.6,507.1 L1352.4,510.6 L1351.1,514.2 L1349.7,517.7 L1348.3,521.3 L1346.7,524.8 L1345.1,528.3 L1343.3,531.9 L1341.5,535.4 L1339.7,538.8 L1337.7,542.3 L1335.6,545.8 L1333.5,549.2 L1331.2,552.7 L1328.9,556.1 L1326.5,559.5 L1324.1,562.9 L1321.5,566.3 L1318.9,569.6 L1316.2,573.0 L1313.4,576.3 L1310.5,579.6 L1307.5,582.9 L1304.5,586.2 L1301.3,589.4 L1298.1,592.6 L1294.8,595.8 L1291.5,599.0 L1288.0,602.2 L1284.5,605.4 L1280.9,608.5 L1277.3,611.6 L1273.5,614.7 L1269.7,617.7 L1265.8,620.8 L1261.8,623.8 L1257.8,626.8 L1253.7,629.7 L1249.5,632.6 L1245.2,635.6 L1240.9,638.4" fill="none" stroke="#fff" stroke-opacity="0.16" stroke-width="3"/>
<path d="M1360.1,478.3 L1200.2,464.6" stroke="#E2CE46" stroke-opacity="0.85" stroke-width="2"/>
<path d="M1240.9,638.4 L1236.2,641.5 L1231.4,644.5 L1226.6,647.4 L1221.7,650.4 L1216.6,653.3 L1211.6,656.2 L1206.4,659.0 L1201.2,661.8 L1195.9,664.6 L1190.5,667.3 L1185.1,670.0 L1179.5,672.7 L1173.9,675.3 L1168.3,677.9 L1162.6,680.5 L1156.7,683.0 L1150.9,685.5 L1144.9,688.0 L1138.9,690.4 L1132.9,692.8 L1126.8,695.1 L1120.6,697.4 L1114.3,699.6 L1108.0,701.9 L1101.6,704.0 L1095.2,706.2 L1088.7,708.3 L1082.1,710.3 L1075.5,712.3 L1068.9,714.3 L1062.2,716.3 L1055.4,718.1 L1048.6,720.0 L1041.7,721.8 L1034.8,723.6 L1027.8,725.3 L1020.8,727.0 L1013.7,728.6 L1006.6,730.2 L999.5,731.7 L992.3,733.2 L985.0,734.7 L977.7,736.1 L970.4,737.5 L963.1,738.8 L955.7,740.1 L948.2,741.3 L940.8,742.5" fill="none" stroke="#fff" stroke-opacity="0.16" stroke-width="3"/>
<path d="M1240.9,638.4 L1107.8,578.1" stroke="#3454CE" stroke-opacity="0.85" stroke-width="2"/>
<path d="M940.8,742.5 L932.9,743.7 L924.9,744.8 L917.0,745.9 L909.0,747.0 L901.0,748.0 L892.9,748.9 L884.8,749.8 L876.7,750.7 L868.6,751.5 L860.4,752.2 L852.2,752.9 L844.0,753.5 L835.8,754.1 L827.5,754.7 L819.2,755.1 L810.9,755.6 L802.6,756.0 L794.3,756.3 L786.0,756.6 L777.6,756.8 L769.3,757.0 L760.9,757.1 L752.5,757.2 L744.2,757.2 L735.8,757.2 L727.4,757.1 L719.0,757.0 L710.7,757.0 L702.4,756.9 L694.0,756.7 L685.7,756.5 L677.4,756.3 L669.0,756.0 L660.7,755.7 L652.4,755.3 L644.1,754.8 L635.9,754.4 L627.6,753.8 L619.3,753.2 L611.1,752.6 L602.9,751.9 L594.7,751.1 L586.5,750.3 L578.4,749.5 L570.3,748.6 L562.2,747.7 L554.1,746.7 L546.1,745.6" fill="none" stroke="#fff" stroke-opacity="0.16" stroke-width="3"/>
<path d="M940.8,742.5 L883.3,651.8" stroke="#E4343E" stroke-opacity="0.85" stroke-width="2"/>
<path d="M546.1,745.6 L538.1,744.6 L530.2,743.4 L522.3,742.2 L514.4,741.0 L506.6,739.8 L498.8,738.4 L491.1,737.1 L483.3,735.7 L475.7,734.2 L468.0,732.7 L460.4,731.1 L452.9,729.5 L445.4,727.9 L437.9,726.2 L430.5,724.5 L423.2,722.7 L415.9,720.9 L408.6,719.0 L401.4,717.1 L394.2,715.1 L387.1,713.1 L380.1,711.1 L373.1,709.0 L366.2,706.9 L359.3,704.7 L352.5,702.5 L345.7,700.3 L339.1,698.0 L332.4,695.6 L325.9,693.3 L319.4,690.9 L313.0,688.4 L306.6,685.9 L300.3,683.4 L294.1,680.8 L288.0,678.2 L281.9,675.6 L275.9,672.9 L270.0,670.2 L264.1,667.5 L258.3,664.7 L252.7,661.9 L247.0,659.0 L241.5,656.1 L236.0,653.2 L230.7,650.3 L225.4,647.3 L220.2,644.3" fill="none" stroke="#fff" stroke-opacity="0.16" stroke-width="3"/>
<path d="M546.1,745.6 L591.8,654.4" stroke="#284CCC" stroke-opacity="0.85" stroke-width="2"/>
<path d="M220.2,644.3 L215.6,641.6 L211.1,638.8 L206.6,636.0 L202.2,633.3 L197.9,630.4 L193.7,627.6 L189.5,624.7 L185.4,621.9 L181.4,619.0 L177.4,616.0 L173.5,613.1 L169.7,610.1 L166.0,607.1 L162.3,604.1 L158.7,601.1 L155.2,598.0 L151.8,595.0 L148.4,591.9 L145.1,588.8 L141.9,585.7 L138.8,582.5 L135.8,579.4 L132.8,576.2 L129.9,573.0 L127.1,569.8 L124.3,566.6 L121.7,563.4 L119.1,560.1 L116.6,556.9 L114.2,553.6 L111.8,550.3 L109.6,547.0 L107.4,543.7 L105.3,540.4 L103.3,537.0 L101.4,533.7 L99.5,530.3 L97.8,527.0 L96.1,523.6 L94.5,520.2 L93.0,516.8 L91.5,513.4 L90.2,510.0 L88.9,506.6 L87.8,503.2 L86.7,499.8 L85.7,496.4 L84.7,492.9" fill="none" stroke="#fff" stroke-opacity="0.16" stroke-width="3"/>
<path d="M220.2,644.3 L350.0,584.1" stroke="#DE3840" stroke-opacity="0.85" stroke-width="2"/>
<path d="M84.7,492.9 L83.9,489.5 L83.2,486.1 L82.5,482.7 L81.9,479.3 L81.4,475.9 L81.0,472.5" fill="none" stroke="#fff" stroke-opacity="0.16" stroke-width="3"/>
<path d="M84.7,492.9 L242.4,472.0" stroke="#DE3840" stroke-opacity="0.85" stroke-width="2"/>
<path d="M136.3,340.6 L262.8,357.5" stroke="#3450BA" stroke-opacity="0.85" stroke-width="2"/>
<path d="M318.7,229.8 L396.3,268.9" stroke="#3450BA" stroke-opacity="0.85" stroke-width="2"/>
<rect x="68.60" y="69.60" width="3.8" height="129.10" fill="#000"/>
<rect x="1378.60" y="69.60" width="3.8" height="129.10" fill="#000"/>
<rect x="95.80" y="132.30" width="1261.10" height="4.8" fill="#000"/><path d="M74.40,134.70 L97.80,123.10 L97.80,146.30Z" fill="#000"/><path d="M1378.30,134.70 L1354.90,123.10 L1354.90,146.30Z" fill="#000"/>
<rect x="249.60" y="417.00" width="3.8" height="65.00" fill="#000"/>
<rect x="1201.80" y="415.40" width="3.8" height="65.80" fill="#000"/>
<rect x="276.30" y="446.70" width="902.90" height="4.8" fill="#000"/><path d="M254.90,449.10 L278.30,437.50 L278.30,460.70Z" fill="#000"/><path d="M1200.60,449.10 L1177.20,437.50 L1177.20,460.70Z" fill="#000"/>
<rect x="1220.90" y="415.40" width="3.8" height="65.80" fill="#000"/>
<rect x="1368.10" y="416.40" width="3.8" height="65.80" fill="#000"/>
<rect x="1247.80" y="446.80" width="97.00" height="4.4" fill="#000"/><path d="M1228.00,449.00 L1249.80,437.40 L1249.80,460.60Z" fill="#000"/><path d="M1364.60,449.00 L1342.80,437.40 L1342.80,460.60Z" fill="#000"/>
<rect x="1279.20" y="626.60" width="3.8" height="65.80" fill="#000"/>
<rect x="1425.30" y="626.60" width="3.8" height="65.80" fill="#000"/>
<rect x="1306.70" y="644.50" width="96.60" height="4.8" fill="#000"/><path d="M1287.20,646.90 L1308.70,635.20 L1308.70,658.60Z" fill="#000"/><path d="M1422.80,646.90 L1401.30,635.20 L1401.30,658.60Z" fill="#000"/>
<rect x="49.40" y="439.10" width="29.10" height="3.8" fill="#000"/>
<rect x="48.40" y="489.70" width="28.80" height="3.8" fill="#000"/>
<path d="M62.9,443.9 L51.9,463 L74.3,463Z" fill="#000"/>
<path d="M62.9,489.2 L51.9,469.5 L74.3,469.5Z" fill="#000"/>
<rect x="60.4" y="460" width="5" height="12" fill="#000"/>
<text transform="translate(706.00,107.10) scale(0.9652,1)" font-size="52.50" letter-spacing="0.000" fill="#000">A</text>
<text transform="translate(701.83,426.20) scale(0.9625,1)" font-size="52.50" letter-spacing="0.000" fill="#000">C</text>
<text transform="translate(1276.91,427.20) scale(0.9487,1)" font-size="52.50" letter-spacing="0.000" fill="#000">D</text>
<text transform="translate(1340.28,633.60) scale(0.9341,1)" font-size="52.50" letter-spacing="0.000" fill="#000">B</text>
<text transform="translate(3.90,483.20) scale(0.9278,1)" font-size="52.50" letter-spacing="0.000" fill="#000">E</text>
<rect x="1224.0" y="489.0" width="145.8" height="53.6" rx="7" fill="#fff" stroke="#000" stroke-width="2.5"/>
<path d="M1259.3,505.6 L1253.3,503.2 L1238.2,503.2 A9.4,9.4 0 1 0 1247.2,515.2" fill="none" stroke="#7e7e7e" stroke-width="2.8" stroke-linecap="round" stroke-linejoin="round"/><path d="M1259.3,505.6 L1253.3,503.2 L1238.2,503.2 A9.4,9.4 0 1 0 1247.2,515.2" fill="none" stroke="#bdbdbd" stroke-width="0.9" stroke-linecap="round" stroke-linejoin="round"/><path d="M1337.6,505.8 L1343.1,504.2 L1359.8,506.3 A9.4,9.4 0 0 1 1354.5,524.3" fill="none" stroke="#7e7e7e" stroke-width="2.8" stroke-linecap="round" stroke-linejoin="round"/><path d="M1337.6,505.8 L1343.1,504.2 L1359.8,506.3 A9.4,9.4 0 0 1 1354.5,524.3" fill="none" stroke="#bdbdbd" stroke-width="0.9" stroke-linecap="round" stroke-linejoin="round"/><rect x="1257.8" y="503.0" width="81.3" height="21.2" rx="1.5" fill="#cacaca"/><line x1="1258.60" y1="503.0" x2="1259.50" y2="524.2" stroke="#5e5e5e" stroke-width="1.2"/><line x1="1261.63" y1="503.0" x2="1262.53" y2="524.2" stroke="#5e5e5e" stroke-width="1.2"/><line x1="1264.67" y1="503.0" x2="1265.57" y2="524.2" stroke="#5e5e5e" stroke-width="1.2"/><line x1="1267.70" y1="503.0" x2="1268.60" y2="524.2" stroke="#5e5e5e" stroke-width="1.2"/><line x1="1270.74" y1="503.0" x2="1271.64" y2="524.2" stroke="#5e5e5e" stroke-width="1.2"/><line x1="1273.77" y1="503.0" x2="1274.67" y2="524.2" stroke="#5e5e5e" stroke-width="1.2"/><line x1="1276.81" y1="503.0" x2="1277.71" y2="524.2" stroke="#5e5e5e" stroke-width="1.2"/><line x1="1279.84" y1="503.0" x2="1280.74" y2="524.2" stroke="#5e5e5e" stroke-width="1.2"/><line x1="1282.88" y1="503.0" x2="1283.78" y2="524.2" stroke="#5e5e5e" stroke-width="1.2"/><line x1="1285.91" y1="503.0" x2="1286.81" y2="524.2" stroke="#5e5e5e" stroke-width="1.2"/><line x1="1288.95" y1="503.0" x2="1289.85" y2="524.2" stroke="#5e5e5e" stroke-width="1.2"/><line x1="1291.98" y1="503.0" x2="1292.88" y2="524.2" stroke="#5e5e5e" stroke-width="1.2"/><line x1="1295.02" y1="503.0" x2="1295.92" y2="524.2" stroke="#5e5e5e" stroke-width="1.2"/><line x1="1298.05" y1="503.0" x2="1298.95" y2="524.2" stroke="#5e5e5e" stroke-width="1.2"/><line x1="1301.08" y1="503.0" x2="1301.98" y2="524.2" stroke="#5e5e5e" stroke-width="1.2"/><line x1="1304.12" y1="503.0" x2="1305.02" y2="524.2" stroke="#5e5e5e" stroke-width="1.2"/><line x1="1307.15" y1="503.0" x2="1308.05" y2="524.2" stroke="#5e5e5e" stroke-width="1.2"/><line x1="1310.19" y1="503.0" x2="1311.09" y2="524.2" stroke="#5e5e5e" stroke-width="1.2"/><line x1="1313.22" y1="503.0" x2="1314.12" y2="524.2" stroke="#5e5e5e" stroke-width="1.2"/><line x1="1316.26" y1="503.0" x2="1317.16" y2="524.2" stroke="#5e5e5e" stroke-width="1.2"/><line x1="1319.29" y1="503.0" x2="1320.19" y2="524.2" stroke="#5e5e5e" stroke-width="1.2"/><line x1="1322.33" y1="503.0" x2="1323.23" y2="524.2" stroke="#5e5e5e" stroke-width="1.2"/><line x1="1325.36" y1="503.0" x2="1326.26" y2="524.2" stroke="#5e5e5e" stroke-width="1.2"/><line x1="1328.40" y1="503.0" x2="1329.30" y2="524.2" stroke="#5e5e5e" stroke-width="1.2"/><line x1="1331.43" y1="503.0" x2="1332.33" y2="524.2" stroke="#5e5e5e" stroke-width="1.2"/><line x1="1334.47" y1="503.0" x2="1335.37" y2="524.2" stroke="#5e5e5e" stroke-width="1.2"/><line x1="1337.50" y1="503.0" x2="1338.40" y2="524.2" stroke="#5e5e5e" stroke-width="1.2"/><rect x="1257.8" y="516.2" width="81.3" height="8.0" fill="#000" opacity="0.10"/><rect x="1257.8" y="515.8" width="81.3" height="1.1" fill="#666" opacity="0.55"/><rect x="1257.8" y="506.6" width="81.3" height="3.5" fill="#fff" opacity="0.35"/>
<path d="M1311.5,703.3 L1305.5,700.9 L1289.1,700.9 A10.2,10.2 0 1 0 1298.8,713.8" fill="none" stroke="#7e7e7e" stroke-width="2.8" stroke-linecap="round" stroke-linejoin="round"/><path d="M1311.5,703.3 L1305.5,700.9 L1289.1,700.9 A10.2,10.2 0 1 0 1298.8,713.8" fill="none" stroke="#bdbdbd" stroke-width="0.9" stroke-linecap="round" stroke-linejoin="round"/><path d="M1396.7,703.5 L1402.2,701.9 L1420.5,704.0 A10.2,10.2 0 0 1 1414.7,723.5" fill="none" stroke="#7e7e7e" stroke-width="2.8" stroke-linecap="round" stroke-linejoin="round"/><path d="M1396.7,703.5 L1402.2,701.9 L1420.5,704.0 A10.2,10.2 0 0 1 1414.7,723.5" fill="none" stroke="#bdbdbd" stroke-width="0.9" stroke-linecap="round" stroke-linejoin="round"/><rect x="1310.0" y="700.7" width="88.2" height="22.7" rx="1.5" fill="#cacaca"/><line x1="1310.80" y1="700.7" x2="1311.70" y2="723.4" stroke="#5e5e5e" stroke-width="1.2"/><line x1="1313.86" y1="700.7" x2="1314.76" y2="723.4" stroke="#5e5e5e" stroke-width="1.2"/><line x1="1316.93" y1="700.7" x2="1317.83" y2="723.4" stroke="#5e5e5e" stroke-width="1.2"/><line x1="1319.99" y1="700.7" x2="1320.89" y2="723.4" stroke="#5e5e5e" stroke-width="1.2"/><line x1="1323.06" y1="700.7" x2="1323.96" y2="723.4" stroke="#5e5e5e" stroke-width="1.2"/><line x1="1326.12" y1="700.7" x2="1327.02" y2="723.4" stroke="#5e5e5e" stroke-width="1.2"/><line x1="1329.19" y1="700.7" x2="1330.09" y2="723.4" stroke="#5e5e5e" stroke-width="1.2"/><line x1="1332.25" y1="700.7" x2="1333.15" y2="723.4" stroke="#5e5e5e" stroke-width="1.2"/><line x1="1335.31" y1="700.7" x2="1336.21" y2="723.4" stroke="#5e5e5e" stroke-width="1.2"/><line x1="1338.38" y1="700.7" x2="1339.28" y2="723.4" stroke="#5e5e5e" stroke-width="1.2"/><line x1="1341.44" y1="700.7" x2="1342.34" y2="723.4" stroke="#5e5e5e" stroke-width="1.2"/><line x1="1344.51" y1="700.7" x2="1345.41" y2="723.4" stroke="#5e5e5e" stroke-width="1.2"/><line x1="1347.57" y1="700.7" x2="1348.47" y2="723.4" stroke="#5e5e5e" stroke-width="1.2"/><line x1="1350.64" y1="700.7" x2="1351.54" y2="723.4" stroke="#5e5e5e" stroke-width="1.2"/><line x1="1353.70" y1="700.7" x2="1354.60" y2="723.4" stroke="#5e5e5e" stroke-width="1.2"/><line x1="1356.76" y1="700.7" x2="1357.66" y2="723.4" stroke="#5e5e5e" stroke-width="1.2"/><line x1="1359.83" y1="700.7" x2="1360.73" y2="723.4" stroke="#5e5e5e" stroke-width="1.2"/><line x1="1362.89" y1="700.7" x2="1363.79" y2="723.4" stroke="#5e5e5e" stroke-width="1.2"/><line x1="1365.96" y1="700.7" x2="1366.86" y2="723.4" stroke="#5e5e5e" stroke-width="1.2"/><line x1="1369.02" y1="700.7" x2="1369.92" y2="723.4" stroke="#5e5e5e" stroke-width="1.2"/><line x1="1372.09" y1="700.7" x2="1372.99" y2="723.4" stroke="#5e5e5e" stroke-width="1.2"/><line x1="1375.15" y1="700.7" x2="1376.05" y2="723.4" stroke="#5e5e5e" stroke-width="1.2"/><line x1="1378.21" y1="700.7" x2="1379.11" y2="723.4" stroke="#5e5e5e" stroke-width="1.2"/><line x1="1381.28" y1="700.7" x2="1382.18" y2="723.4" stroke="#5e5e5e" stroke-width="1.2"/><line x1="1384.34" y1="700.7" x2="1385.24" y2="723.4" stroke="#5e5e5e" stroke-width="1.2"/><line x1="1387.41" y1="700.7" x2="1388.31" y2="723.4" stroke="#5e5e5e" stroke-width="1.2"/><line x1="1390.47" y1="700.7" x2="1391.37" y2="723.4" stroke="#5e5e5e" stroke-width="1.2"/><line x1="1393.54" y1="700.7" x2="1394.44" y2="723.4" stroke="#5e5e5e" stroke-width="1.2"/><line x1="1396.60" y1="700.7" x2="1397.50" y2="723.4" stroke="#5e5e5e" stroke-width="1.2"/><rect x="1310.0" y="713.9" width="88.2" height="9.5" fill="#000" opacity="0.10"/><rect x="1310.0" y="713.5" width="88.2" height="1.1" fill="#666" opacity="0.55"/><rect x="1310.0" y="704.3" width="88.2" height="3.5" fill="#fff" opacity="0.35"/>
<rect x="17.20" y="840.10" width="1408.90" height="3.70" fill="#000"/>
<rect x="17.20" y="890.30" width="1408.90" height="3.70" fill="#000"/>
<rect x="17.20" y="840.00" width="3.70" height="54.00" fill="#000"/>
<rect x="207.80" y="840.00" width="3.60" height="54.00" fill="#000"/>
<rect x="414.00" y="840.00" width="3.70" height="54.00" fill="#000"/>
<rect x="625.90" y="840.00" width="3.70" height="54.00" fill="#000"/>
<rect x="839.70" y="840.00" width="3.70" height="54.00" fill="#000"/>
<rect x="1045.50" y="840.00" width="3.80" height="54.00" fill="#000"/>
<rect x="1234.60" y="840.00" width="3.50" height="54.00" fill="#000"/>
<rect x="1422.40" y="840.00" width="3.70" height="54.00" fill="#000"/>
<rect x="17.20" y="911.30" width="1408.90" height="3.70" fill="#000"/>
<rect x="17.20" y="1426.30" width="1408.90" height="3.60" fill="#000"/>
<rect x="17.20" y="911.30" width="3.70" height="518.60" fill="#000"/>
<rect x="207.80" y="911.30" width="3.60" height="518.60" fill="#000"/>
<rect x="414.00" y="911.30" width="3.70" height="518.60" fill="#000"/>
<rect x="625.90" y="911.30" width="3.70" height="518.60" fill="#000"/>
<rect x="839.70" y="911.30" width="3.70" height="518.60" fill="#000"/>
<rect x="1045.50" y="911.30" width="3.80" height="518.60" fill="#000"/>
<rect x="1234.60" y="911.30" width="3.50" height="518.60" fill="#000"/>
<rect x="1422.40" y="911.30" width="3.70" height="518.60" fill="#000"/>
<rect x="17.20" y="1060.10" width="1408.90" height="2.80" fill="#000"/>
<rect x="17.20" y="1121.80" width="824.80" height="2.80" fill="#000"/>
<rect x="17.20" y="1181.00" width="824.80" height="2.80" fill="#000"/>
<rect x="17.20" y="1242.60" width="824.80" height="2.80" fill="#000"/>
<rect x="17.20" y="1304.40" width="824.80" height="2.80" fill="#000"/>
<rect x="17.20" y="1365.60" width="824.80" height="2.80" fill="#000"/>
<text transform="translate(298.63,880.30) scale(0.9974,1)" font-size="37.50" letter-spacing="0.000" fill="#000">A</text>
<text transform="translate(514.70,880.30) scale(1.0722,1)" font-size="37.50" letter-spacing="0.000" fill="#000">B</text>
<text transform="translate(721.58,880.50) scale(1.0064,1)" font-size="37.50" letter-spacing="0.000" fill="#000">C</text>
<text transform="translate(928.90,880.30) scale(1.0085,1)" font-size="37.50" letter-spacing="0.000" fill="#000">D</text>
<text transform="translate(1125.77,880.30) scale(1.0185,1)" font-size="37.50" letter-spacing="0.000" fill="#000">E</text>
<text transform="translate(65.69,947.20) scale(0.9610,1)" font-size="30.00" letter-spacing="1.619" fill="#000">SIZE</text>
<text transform="translate(228.04,948.60) scale(0.9610,1)" font-size="30.00" letter-spacing="1.646" fill="#000">FIT OUTER</text>
<text transform="translate(255.64,997.80) scale(0.9610,1)" font-size="30.00" letter-spacing="1.378" fill="#000">FRAME</text>
<text transform="translate(227.54,1047.40) scale(0.9610,1)" font-size="30.00" letter-spacing="1.641" fill="#000">DIAMETER</text>
<text transform="translate(433.84,948.40) scale(0.9610,1)" font-size="30.00" letter-spacing="1.624" fill="#000">FIT SPRING</text>
<text transform="translate(461.54,997.80) scale(0.9610,1)" font-size="30.00" letter-spacing="1.764" fill="#000">LENGTH</text>
<text transform="translate(637.24,947.20) scale(0.9610,1)" font-size="30.00" letter-spacing="1.524" fill="#000">FIT JUMPING</text>
<text transform="translate(701.94,997.10) scale(0.9610,1)" font-size="30.00" letter-spacing="2.638" fill="#000">MAT</text>
<text transform="translate(655.44,1047.90) scale(0.9610,1)" font-size="30.00" letter-spacing="1.626" fill="#000">DIAMETER</text>
<text transform="translate(856.74,947.80) scale(0.9610,1)" font-size="30.00" letter-spacing="1.698" fill="#000">PAD WIDTH</text>
<text transform="translate(1055.69,947.80) scale(0.9610,1)" font-size="30.00" letter-spacing="1.535" fill="#000">SIDE SKIRT</text>
<text transform="translate(1094.07,997.80) scale(0.9610,1)" font-size="30.00" letter-spacing="1.354" fill="#000">WIDTH</text>
<text transform="translate(1271.94,947.20) scale(0.9610,1)" font-size="30.00" letter-spacing="1.608" fill="#000">Padded</text>
<text transform="translate(1281.54,996.50) scale(0.9610,1)" font-size="30.00" letter-spacing="1.655" fill="#000">Foam</text>
<text transform="translate(1255.55,1046.50) scale(0.9610,1)" font-size="30.00" letter-spacing="1.198" fill="#000">Thickness</text>
<text transform="translate(59.85,1106.50) scale(0.9610,1)" font-size="30.00" letter-spacing="1.580" fill="#000">8 FEET</text>
<text transform="translate(43.50,1164.60) scale(0.9610,1)" font-size="30.00" letter-spacing="1.370" fill="#000">10 FEET</text>
<text transform="translate(42.70,1221.00) scale(0.9610,1)" font-size="30.00" letter-spacing="1.509" fill="#000">12 FEET</text>
<text transform="translate(43.50,1285.80) scale(0.9610,1)" font-size="30.00" letter-spacing="1.370" fill="#000">14 FEET</text>
<text transform="translate(41.80,1343.70) scale(0.9610,1)" font-size="30.00" letter-spacing="1.596" fill="#000">15 FEET</text>
<text transform="translate(41.30,1409.30) scale(0.9610,1)" font-size="30.00" letter-spacing="1.544" fill="#000">16 FEET</text>
<text transform="translate(289.25,1105.00) scale(0.9610,1)" font-size="30.00" letter-spacing="1.836" fill="#000">8'</text>
<text transform="translate(281.10,1164.00) scale(0.9610,1)" font-size="30.00" letter-spacing="0.767" fill="#000">10'</text>
<text transform="translate(281.10,1221.90) scale(0.9610,1)" font-size="30.00" letter-spacing="0.767" fill="#000">12'</text>
<text transform="translate(281.70,1284.50) scale(0.9610,1)" font-size="30.00" letter-spacing="0.767" fill="#000">14'</text>
<text transform="translate(281.10,1348.40) scale(0.9610,1)" font-size="30.00" letter-spacing="0.767" fill="#000">15'</text>
<text transform="translate(281.10,1410.60) scale(0.9610,1)" font-size="30.00" letter-spacing="0.767" fill="#000">16'</text>
<text transform="translate(495.15,1105.60) scale(0.9610,1)" font-size="30.00" letter-spacing="1.550" fill="#000">5.5&quot;</text>
<text transform="translate(495.15,1164.70) scale(0.9610,1)" font-size="30.00" letter-spacing="1.550" fill="#000">5.5&quot;</text>
<text transform="translate(493.75,1222.80) scale(0.9610,1)" font-size="30.00" letter-spacing="1.827" fill="#000">5.5&quot;</text>
<text transform="translate(495.15,1285.90) scale(0.9610,1)" font-size="30.00" letter-spacing="1.550" fill="#000">5.5&quot;</text>
<text transform="translate(495.15,1348.40) scale(0.9610,1)" font-size="30.00" letter-spacing="1.550" fill="#000">5.5&quot;</text>
<text transform="translate(507.32,1410.60) scale(0.9610,1)" font-size="30.00" letter-spacing="1.805" fill="#000">7&quot;</text>
<text transform="translate(708.64,1105.60) scale(0.9610,1)" font-size="30.00" letter-spacing="2.058" fill="#000">6.6'</text>
<text transform="translate(708.25,1164.70) scale(0.9610,1)" font-size="30.00" letter-spacing="1.984" fill="#000">8.6'</text>
<text transform="translate(700.10,1225.10) scale(0.9610,1)" font-size="30.00" letter-spacing="1.543" fill="#000">10.6'</text>
<text transform="translate(700.10,1287.40) scale(0.9610,1)" font-size="30.00" letter-spacing="1.699" fill="#000">12.7'</text>
<text transform="translate(700.10,1346.10) scale(0.9610,1)" font-size="30.00" letter-spacing="1.543" fill="#000">13.6'</text>
<text transform="translate(700.10,1410.10) scale(0.9610,1)" font-size="30.00" letter-spacing="1.543" fill="#000">14.3'</text>
<text transform="translate(918.70,1285.90) scale(0.9610,1)" font-size="30.00" letter-spacing="1.987" fill="#000">12&quot;</text>
<text transform="translate(1141.94,1284.10) scale(0.9610,1)" font-size="30.00" letter-spacing="2.412" fill="#000">4&quot;</text>
<text transform="translate(1316.07,1284.70) scale(0.9610,1)" font-size="30.00" letter-spacing="1.783" fill="#000">0.6&quot;</text>
</g>
</svg>
</body></html>
